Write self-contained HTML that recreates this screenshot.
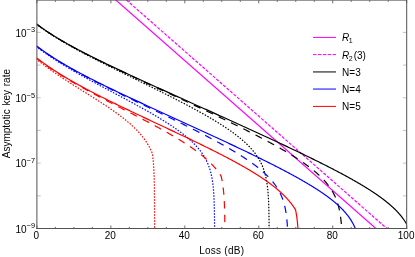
<!DOCTYPE html>
<html><head><meta charset="utf-8"><style>
html,body{margin:0;padding:0;background:#fff;}
svg{display:block;will-change:transform;}
text{font-family:"Liberation Sans",sans-serif;font-size:10px;fill:#000;}
</style></head><body>
<svg width="415" height="257" viewBox="0 0 415 257">
<rect width="415" height="257" fill="#fff"/>
<defs><clipPath id="c"><rect x="36.90" y="0" width="369.80" height="228.50"/></clipPath></defs>
<g clip-path="url(#c)">
<path d="M112.36 -3.00 L378.18 230.50" stroke="#ff00ff" fill="none" stroke-width="1.2"/>
<path d="M122.94 -3.00 L389.08 230.50" stroke="#ff00ff" fill="none" stroke-width="1.2" stroke-dasharray="3.1 1.5"/>
<path d="M35.90 23.46 L36.38 23.83 L36.86 24.19 L37.34 24.55 L37.82 24.91 L38.30 25.27 L38.78 25.62 L39.26 25.98 L39.75 26.33 L40.23 26.68 L40.72 27.03 L41.21 27.38 L41.70 27.73 L42.19 28.08 L42.68 28.42 L43.17 28.77 L43.66 29.11 L44.16 29.45 L44.65 29.79 L45.14 30.13 L45.64 30.47 L46.14 30.80 L46.64 31.14 L47.13 31.47 L47.63 31.81 L48.13 32.14 L48.63 32.47 L49.14 32.80 L49.64 33.12 L50.14 33.45 L50.65 33.78 L51.15 34.10 L51.66 34.42 L52.16 34.75 L52.67 35.07 L53.18 35.39 L53.68 35.71 L54.19 36.02 L54.70 36.34 L55.21 36.66 L55.72 36.97 L56.24 37.29 L56.75 37.60 L57.26 37.91 L57.77 38.22 L58.29 38.53 L58.80 38.84 L59.32 39.15 L59.83 39.45 L60.35 39.76 L60.86 40.07 L61.38 40.37 L61.90 40.67 L62.42 40.98 L62.94 41.28 L63.46 41.58 L63.98 41.88 L64.50 42.18 L65.02 42.47 L65.54 42.77 L66.06 43.07 L66.58 43.36 L67.10 43.66 L67.63 43.95 L68.15 44.25 L68.67 44.54 L69.20 44.83 L69.72 45.12 L70.25 45.41 L70.77 45.70 L71.30 45.99 L71.82 46.28 L72.35 46.57 L72.88 46.86 L73.40 47.14 L73.93 47.43 L74.46 47.71 L74.99 48.00 L75.52 48.28 L76.05 48.57 L76.57 48.85 L77.10 49.13 L77.63 49.41 L78.16 49.69 L78.69 49.97 L79.23 50.25 L79.76 50.53 L80.29 50.81 L80.82 51.09 L81.35 51.37 L81.88 51.64 L82.42 51.92 L82.95 52.20 L83.48 52.47 L84.02 52.75 L84.55 53.02 L85.08 53.30 L85.62 53.57 L86.15 53.84 L86.68 54.12 L87.22 54.39 L87.75 54.66 L88.29 54.93 L88.82 55.20 L89.36 55.47 L89.90 55.74 L90.43 56.01 L90.97 56.28 L91.50 56.55 L92.04 56.82 L92.58 57.09 L93.11 57.36 L93.65 57.62 L94.19 57.89 L94.73 58.16 L95.26 58.42 L95.80 58.69 L96.34 58.95 L96.88 59.22 L97.42 59.48 L97.96 59.75 L98.49 60.01 L99.03 60.28 L99.57 60.54 L100.11 60.80 L100.65 61.07 L101.19 61.33 L101.73 61.59 L102.27 61.86 L102.81 62.12 L103.35 62.38 L103.89 62.64 L104.43 62.90 L104.97 63.16 L105.51 63.42 L106.05 63.68 L106.59 63.94 L107.13 64.20 L107.67 64.46 L108.21 64.72 L108.76 64.98 L109.30 65.24 L109.84 65.50 L110.38 65.76 L110.92 66.01 L111.46 66.27 L112.00 66.53 L112.55 66.79 L113.09 67.04 L113.63 67.30 L114.17 67.56 L114.72 67.82 L115.26 68.07 L115.80 68.33 L116.34 68.58 L116.89 68.84 L117.43 69.10 L117.97 69.35 L118.51 69.61 L119.06 69.86 L119.60 70.12 L120.14 70.37 L120.69 70.63 L121.23 70.88 L121.77 71.14 L122.32 71.39 L122.86 71.64 L123.40 71.90 L123.95 72.15 L124.49 72.41 L125.04 72.66 L125.58 72.91 L126.12 73.17 L126.67 73.42 L127.21 73.67 L127.76 73.92 L128.30 74.18 L128.84 74.43 L129.39 74.68 L129.93 74.93 L130.48 75.19 L131.02 75.44 L131.57 75.69 L132.11 75.94 L132.66 76.19 L133.20 76.44 L133.74 76.70 L134.29 76.95 L134.83 77.20 L135.38 77.45 L135.92 77.70 L136.47 77.95 L137.01 78.20 L137.56 78.45 L138.10 78.70 L138.65 78.95 L139.19 79.21 L139.74 79.46 L140.29 79.71 L140.83 79.96 L141.38 80.21 L141.92 80.46 L142.47 80.71 L143.01 80.96 L143.56 81.21 L144.10 81.46 L144.65 81.71 L145.19 81.95 L145.74 82.20 L146.29 82.45 L146.83 82.70 L147.38 82.95 L147.92 83.20 L148.47 83.45 L149.02 83.70 L149.56 83.95 L150.11 84.20 L150.65 84.45 L151.20 84.70 L151.75 84.94 L152.29 85.19 L152.84 85.44 L153.38 85.69 L153.93 85.94 L154.48 86.19 L155.02 86.44 L155.57 86.68 L156.11 86.93 L156.66 87.18 L157.21 87.43 L157.75 87.68 L158.30 87.92 L158.85 88.17 L159.39 88.42 L159.94 88.67 L160.48 88.92 L161.03 89.16 L161.58 89.41 L162.12 89.66 L162.67 89.91 L163.22 90.16 L163.76 90.40 L164.31 90.65 L164.86 90.90 L165.40 91.15 L165.95 91.39 L166.50 91.64 L167.04 91.89 L167.59 92.14 L168.14 92.38 L168.68 92.63 L169.23 92.88 L169.78 93.13 L170.32 93.37 L170.87 93.62 L171.42 93.87 L171.96 94.11 L172.51 94.36 L173.06 94.61 L173.60 94.86 L174.15 95.10 L174.70 95.35 L175.24 95.60 L175.79 95.84 L176.34 96.09 L176.88 96.34 L177.43 96.59 L177.98 96.83 L178.52 97.08 L179.07 97.33 L179.62 97.57 L180.16 97.82 L180.71 98.07 L181.26 98.31 L181.80 98.56 L182.35 98.81 L182.90 99.05 L183.45 99.30 L183.99 99.55 L184.54 99.79 L185.09 100.04 L185.63 100.29 L186.18 100.54 L186.73 100.78 L187.27 101.03 L187.82 101.28 L188.37 101.52 L188.91 101.77 L189.46 102.02 L190.01 102.26 L190.56 102.51 L191.10 102.76 L191.65 103.00 L192.20 103.25 L192.74 103.50 L193.29 103.74 L193.84 103.99 L194.38 104.24 L194.93 104.48 L195.48 104.73 L196.02 104.98 L196.57 105.22 L197.12 105.47 L197.67 105.72 L198.21 105.96 L198.76 106.21 L199.31 106.46 L199.85 106.70 L200.40 106.95 L200.95 107.20 L201.49 107.44 L202.04 107.69 L202.59 107.94 L203.13 108.18 L203.68 108.43 L204.23 108.68 L204.78 108.92 L205.32 109.17 L205.87 109.42 L206.42 109.66 L206.96 109.91 L207.51 110.16 L208.06 110.40 L208.60 110.65 L209.15 110.90 L209.70 111.15 L210.24 111.39 L210.79 111.64 L211.34 111.89 L211.88 112.13 L212.43 112.38 L212.98 112.63 L213.52 112.87 L214.07 113.12 L214.62 113.37 L215.17 113.62 L215.71 113.86 L216.26 114.11 L216.81 114.36 L217.35 114.60 L217.90 114.85 L218.45 115.10 L218.99 115.35 L219.54 115.59 L220.09 115.84 L220.63 116.09 L221.18 116.33 L221.73 116.58 L222.27 116.83 L222.82 117.08 L223.37 117.32 L223.91 117.57 L224.46 117.82 L225.01 118.07 L225.55 118.31 L226.10 118.56 L226.64 118.81 L227.19 119.06 L227.74 119.30 L228.28 119.55 L228.83 119.80 L229.38 120.05 L229.92 120.30 L230.47 120.54 L231.02 120.79 L231.56 121.04 L232.11 121.29 L232.66 121.54 L233.20 121.78 L233.75 122.03 L234.29 122.28 L234.84 122.53 L235.39 122.78 L235.93 123.02 L236.48 123.27 L237.03 123.52 L237.57 123.77 L238.12 124.02 L238.66 124.27 L239.21 124.51 L239.76 124.76 L240.30 125.01 L240.85 125.26 L241.39 125.51 L241.94 125.76 L242.49 126.01 L243.03 126.26 L243.58 126.50 L244.12 126.75 L244.67 127.00 L245.22 127.25 L245.76 127.50 L246.31 127.75 L246.85 128.00 L247.40 128.25 L247.95 128.50 L248.49 128.75 L249.04 129.00 L249.58 129.25 L250.13 129.49 L250.67 129.74 L251.22 129.99 L251.76 130.24 L252.31 130.49 L252.86 130.74 L253.40 130.99 L253.95 131.24 L254.49 131.49 L255.04 131.74 L255.58 131.99 L256.13 132.24 L256.67 132.49 L257.22 132.74 L257.76 132.99 L258.31 133.25 L258.85 133.50 L259.40 133.75 L259.94 134.00 L260.49 134.25 L261.03 134.50 L261.58 134.75 L262.12 135.00 L262.67 135.25 L263.21 135.50 L263.76 135.75 L264.30 136.01 L264.85 136.26 L265.39 136.51 L265.94 136.76 L266.48 137.01 L267.03 137.26 L267.57 137.52 L268.12 137.77 L268.66 138.02 L269.21 138.27 L269.75 138.52 L270.29 138.78 L270.84 139.03 L271.38 139.28 L271.93 139.53 L272.47 139.79 L273.02 140.04 L273.56 140.29 L274.10 140.55 L274.65 140.80 L275.19 141.05 L275.74 141.31 L276.28 141.56 L276.82 141.81 L277.37 142.07 L277.91 142.32 L278.45 142.57 L279.00 142.83 L279.54 143.08 L280.08 143.34 L280.63 143.59 L281.17 143.85 L281.71 144.10 L282.26 144.35 L282.80 144.61 L283.34 144.86 L283.89 145.12 L284.43 145.38 L284.97 145.63 L285.52 145.89 L286.06 146.14 L286.60 146.40 L287.14 146.65 L287.69 146.91 L288.23 147.17 L288.77 147.42 L289.31 147.68 L289.86 147.93 L290.40 148.19 L290.94 148.45 L291.48 148.71 L292.03 148.96 L292.57 149.22 L293.11 149.48 L293.65 149.73 L294.19 149.99 L294.74 150.25 L295.28 150.51 L295.82 150.77 L296.36 151.03 L296.90 151.28 L297.44 151.54 L297.98 151.80 L298.53 152.06 L299.07 152.32 L299.61 152.58 L300.15 152.84 L300.69 153.10 L301.23 153.36 L301.77 153.62 L302.31 153.88 L302.85 154.14 L303.39 154.40 L303.93 154.66 L304.47 154.92 L305.01 155.18 L305.55 155.45 L306.09 155.71 L306.63 155.97 L307.17 156.23 L307.71 156.49 L308.25 156.76 L308.79 157.02 L309.33 157.28 L309.87 157.55 L310.41 157.81 L310.95 158.07 L311.49 158.34 L312.02 158.60 L312.56 158.86 L313.10 159.13 L313.64 159.39 L314.18 159.66 L314.72 159.92 L315.25 160.19 L315.79 160.46 L316.33 160.72 L316.87 160.99 L317.41 161.25 L317.94 161.52 L318.48 161.79 L319.02 162.06 L319.55 162.32 L320.09 162.59 L320.63 162.86 L321.16 163.13 L321.70 163.40 L322.24 163.67 L322.77 163.94 L323.31 164.21 L323.84 164.48 L324.38 164.75 L324.92 165.02 L325.45 165.29 L325.99 165.56 L326.52 165.83 L327.06 166.10 L327.59 166.37 L328.13 166.65 L328.66 166.92 L329.19 167.19 L329.73 167.47 L330.26 167.74 L330.80 168.02 L331.33 168.29 L331.86 168.57 L332.39 168.84 L332.93 169.12 L333.46 169.39 L333.99 169.67 L334.52 169.95 L335.06 170.22 L335.59 170.50 L336.12 170.78 L336.65 171.06 L337.18 171.34 L337.71 171.62 L338.24 171.90 L338.77 172.18 L339.31 172.46 L339.84 172.74 L340.36 173.02 L340.89 173.30 L341.42 173.59 L341.95 173.87 L342.48 174.15 L343.01 174.44 L343.54 174.72 L344.07 175.01 L344.59 175.29 L345.12 175.58 L345.65 175.87 L346.17 176.15 L346.70 176.44 L347.23 176.73 L347.75 177.02 L348.28 177.31 L348.80 177.60 L349.33 177.89 L349.85 178.18 L350.38 178.47 L350.90 178.76 L351.43 179.06 L351.95 179.35 L352.47 179.64 L352.99 179.94 L353.52 180.23 L354.04 180.53 L354.56 180.83 L355.08 181.13 L355.60 181.42 L356.12 181.72 L356.64 182.02 L357.16 182.32 L357.68 182.62 L358.20 182.93 L358.72 183.23 L359.23 183.53 L359.75 183.84 L360.27 184.14 L360.78 184.45 L361.30 184.75 L361.81 185.06 L362.33 185.37 L362.84 185.68 L363.36 185.99 L363.87 186.30 L364.38 186.61 L364.89 186.93 L365.40 187.24 L365.92 187.56 L366.43 187.87 L366.93 188.19 L367.44 188.51 L367.95 188.82 L368.46 189.14 L368.97 189.47 L369.47 189.79 L369.98 190.11 L370.48 190.44 L370.99 190.76 L371.49 191.09 L371.99 191.42 L372.49 191.74 L373.00 192.07 L373.50 192.41 L374.00 192.74 L374.49 193.07 L374.99 193.41 L375.49 193.74 L375.98 194.08 L376.48 194.42 L376.97 194.76 L377.47 195.10 L377.96 195.45 L378.45 195.79 L378.94 196.14 L379.43 196.49 L379.91 196.84 L380.40 197.19 L380.89 197.54 L381.37 197.90 L381.85 198.25 L382.33 198.61 L382.81 198.97 L383.29 199.33 L383.77 199.70 L384.25 200.06 L384.72 200.43 L385.19 200.80 L385.67 201.17 L386.14 201.54 L386.60 201.92 L387.07 202.29 L387.54 202.67 L388.00 203.05 L388.46 203.44 L388.92 203.82 L389.38 204.21 L389.83 204.60 L390.29 204.99 L390.74 205.39 L391.19 205.78 L391.64 206.18 L392.08 206.58 L392.53 206.99 L392.97 207.40 L393.41 207.81 L393.84 208.22 L394.28 208.63 L394.71 209.05 L395.13 209.47 L395.56 209.89 L395.98 210.32 L396.40 210.75 L396.82 211.18 L397.23 211.62 L397.64 212.05 L398.05 212.49 L398.45 212.94 L398.85 213.39 L399.25 213.84 L399.64 214.29 L400.03 214.75 L400.42 215.21 L400.80 215.67 L401.18 216.13 L401.55 216.60 L401.92 217.08 L402.28 217.55 L402.64 218.03 L403.00 218.52 L403.35 219.00 L403.70 219.49 L404.04 219.98 L404.38 220.48 L404.71 220.98 L405.04 221.48 L405.36 221.99 L405.68 222.50 L405.99 223.01 L406.30 223.53 L406.60 224.05 L406.89 224.57 L407.18 225.09 L407.47 225.62 L407.75 226.15 L408.02 226.69 L408.29 227.22 L408.55 227.76 L408.80 228.31 L409.05 228.85 L409.30 229.40 L409.54 229.95 L409.77 230.50 L410.00 231.06 L410.15 231.46" stroke="#000" fill="none" stroke-width="1.2" />
<path d="M35.90 23.54 L36.38 23.91 L36.86 24.27 L37.33 24.63 L37.81 24.99 L38.30 25.35 L38.78 25.71 L39.26 26.06 L39.75 26.41 L40.23 26.77 L40.72 27.12 L41.21 27.47 L41.69 27.82 L42.18 28.16 L42.67 28.51 L43.16 28.85 L43.66 29.20 L44.15 29.54 L44.64 29.88 L45.14 30.22 L45.63 30.56 L46.13 30.89 L46.63 31.23 L47.13 31.56 L47.63 31.90 L48.13 32.23 L48.63 32.56 L49.13 32.89 L49.63 33.22 L50.13 33.55 L50.64 33.87 L51.14 34.20 L51.64 34.52 L52.15 34.84 L52.66 35.17 L53.16 35.49 L53.67 35.81 L54.18 36.12 L54.69 36.44 L55.20 36.76 L55.71 37.07 L56.22 37.39 L56.73 37.70 L57.24 38.01 L57.76 38.33 L58.27 38.64 L58.78 38.95 L59.30 39.25 L59.81 39.56 L60.33 39.87 L60.85 40.17 L61.36 40.48 L61.88 40.78 L62.40 41.09 L62.92 41.39 L63.43 41.69 L63.95 41.99 L64.47 42.29 L64.99 42.59 L65.51 42.89 L66.04 43.19 L66.56 43.48 L67.08 43.78 L67.60 44.07 L68.12 44.37 L68.65 44.66 L69.17 44.96 L69.70 45.25 L70.22 45.54 L70.74 45.83 L71.27 46.12 L71.80 46.41 L72.32 46.70 L72.85 46.99 L73.37 47.27 L73.90 47.56 L74.43 47.85 L74.96 48.13 L75.48 48.42 L76.01 48.70 L76.54 48.98 L77.07 49.27 L77.60 49.55 L78.13 49.83 L78.66 50.11 L79.19 50.39 L79.72 50.68 L80.25 50.95 L80.78 51.23 L81.31 51.51 L81.84 51.79 L82.38 52.07 L82.91 52.35 L83.44 52.62 L83.97 52.90 L84.51 53.17 L85.04 53.45 L85.57 53.73 L86.11 54.00 L86.64 54.27 L87.17 54.55 L87.71 54.82 L88.24 55.09 L88.78 55.37 L89.31 55.64 L89.85 55.91 L90.38 56.18 L90.92 56.45 L91.45 56.72 L91.99 56.99 L92.53 57.26 L93.06 57.53 L93.60 57.80 L94.14 58.07 L94.67 58.33 L95.21 58.60 L95.75 58.87 L96.28 59.14 L96.82 59.40 L97.36 59.67 L97.90 59.94 L98.43 60.20 L98.97 60.47 L99.51 60.73 L100.05 61.00 L100.59 61.26 L101.13 61.53 L101.66 61.79 L102.20 62.05 L102.74 62.32 L103.28 62.58 L103.82 62.84 L104.36 63.11 L104.90 63.37 L105.44 63.63 L105.98 63.89 L106.52 64.16 L107.06 64.42 L107.60 64.68 L108.14 64.94 L108.68 65.20 L109.22 65.46 L109.76 65.72 L110.30 65.98 L110.84 66.24 L111.38 66.50 L111.92 66.76 L112.46 67.02 L113.01 67.28 L113.55 67.54 L114.09 67.80 L114.63 68.06 L115.17 68.31 L115.71 68.57 L116.25 68.83 L116.80 69.09 L117.34 69.35 L117.88 69.60 L118.42 69.86 L118.96 70.12 L119.51 70.38 L120.05 70.63 L120.59 70.89 L121.13 71.15 L121.67 71.40 L122.22 71.66 L122.76 71.92 L123.30 72.17 L123.84 72.43 L124.39 72.68 L124.93 72.94 L125.47 73.20 L126.02 73.45 L126.56 73.71 L127.10 73.96 L127.64 74.22 L128.19 74.47 L128.73 74.73 L129.27 74.98 L129.82 75.24 L130.36 75.49 L130.90 75.75 L131.45 76.00 L131.99 76.26 L132.53 76.51 L133.08 76.77 L133.62 77.02 L134.16 77.27 L134.71 77.53 L135.25 77.78 L135.80 78.04 L136.34 78.29 L136.88 78.54 L137.43 78.80 L137.97 79.05 L138.51 79.30 L139.06 79.56 L139.60 79.81 L140.15 80.06 L140.69 80.32 L141.23 80.57 L141.78 80.82 L142.32 81.08 L142.87 81.33 L143.41 81.58 L143.95 81.84 L144.50 82.09 L145.04 82.34 L145.59 82.59 L146.13 82.85 L146.67 83.10 L147.22 83.35 L147.76 83.60 L148.31 83.86 L148.85 84.11 L149.40 84.36 L149.94 84.62 L150.48 84.87 L151.03 85.12 L151.57 85.37 L152.12 85.62 L152.66 85.88 L153.21 86.13 L153.75 86.38 L154.29 86.63 L154.84 86.89 L155.38 87.14 L155.93 87.39 L156.47 87.64 L157.02 87.90 L157.56 88.15 L158.11 88.40 L158.65 88.65 L159.19 88.90 L159.74 89.16 L160.28 89.41 L160.83 89.66 L161.37 89.91 L161.92 90.17 L162.46 90.42 L163.00 90.67 L163.55 90.92 L164.09 91.17 L164.64 91.43 L165.18 91.68 L165.73 91.93 L166.27 92.18 L166.82 92.44 L167.36 92.69 L167.90 92.94 L168.45 93.19 L168.99 93.44 L169.54 93.70 L170.08 93.95 L170.63 94.20 L171.17 94.45 L171.72 94.71 L172.26 94.96 L172.80 95.21 L173.35 95.46 L173.89 95.72 L174.44 95.97 L174.98 96.22 L175.53 96.47 L176.07 96.73 L176.61 96.98 L177.16 97.23 L177.70 97.48 L178.25 97.74 L178.79 97.99 L179.33 98.24 L179.88 98.49 L180.42 98.75 L180.97 99.00 L181.51 99.25 L182.06 99.51 L182.60 99.76 L183.14 100.01 L183.69 100.27 L184.23 100.52 L184.77 100.77 L185.32 101.03 L185.86 101.28 L186.41 101.53 L186.95 101.79 L187.49 102.04 L188.04 102.29 L188.58 102.55 L189.13 102.80 L189.67 103.05 L190.21 103.31 L190.76 103.56 L191.30 103.82 L191.84 104.07 L192.39 104.32 L192.93 104.58 L193.47 104.83 L194.02 105.09 L194.56 105.34 L195.10 105.60 L195.65 105.85 L196.19 106.10 L196.73 106.36 L197.28 106.61 L197.82 106.87 L198.36 107.12 L198.91 107.38 L199.45 107.63 L199.99 107.89 L200.54 108.14 L201.08 108.40 L201.62 108.65 L202.17 108.91 L202.71 109.17 L203.25 109.42 L203.79 109.68 L204.34 109.93 L204.88 110.19 L205.42 110.45 L205.96 110.70 L206.51 110.96 L207.05 111.21 L207.59 111.47 L208.13 111.73 L208.68 111.98 L209.22 112.24 L209.76 112.50 L210.30 112.75 L210.84 113.01 L211.39 113.27 L211.93 113.53 L212.47 113.78 L213.01 114.04 L213.55 114.30 L214.10 114.56 L214.64 114.82 L215.18 115.07 L215.72 115.33 L216.26 115.59 L216.80 115.85 L217.35 116.11 L217.89 116.37 L218.43 116.63 L218.97 116.88 L219.51 117.14 L220.05 117.40 L220.59 117.66 L221.13 117.92 L221.67 118.18 L222.21 118.44 L222.75 118.70 L223.30 118.96 L223.84 119.22 L224.38 119.48 L224.92 119.75 L225.46 120.01 L226.00 120.27 L226.54 120.53 L227.08 120.79 L227.62 121.05 L228.16 121.31 L228.70 121.58 L229.24 121.84 L229.78 122.10 L230.32 122.36 L230.86 122.63 L231.39 122.89 L231.93 123.15 L232.47 123.42 L233.01 123.68 L233.55 123.94 L234.09 124.21 L234.63 124.47 L235.17 124.73 L235.71 125.00 L236.24 125.26 L236.78 125.53 L237.32 125.79 L237.86 126.06 L238.40 126.33 L238.93 126.59 L239.47 126.86 L240.01 127.12 L240.55 127.39 L241.08 127.66 L241.62 127.92 L242.16 128.19 L242.70 128.46 L243.23 128.73 L243.77 129.00 L244.31 129.26 L244.84 129.53 L245.38 129.80 L245.92 130.07 L246.45 130.34 L246.99 130.61 L247.52 130.88 L248.06 131.15 L248.59 131.42 L249.13 131.69 L249.67 131.96 L250.20 132.23 L250.74 132.51 L251.27 132.78 L251.80 133.05 L252.34 133.32 L252.87 133.60 L253.41 133.87 L253.94 134.14 L254.48 134.42 L255.01 134.69 L255.54 134.97 L256.08 135.24 L256.61 135.52 L257.14 135.79 L257.67 136.07 L258.21 136.34 L258.74 136.62 L259.27 136.90 L259.80 137.18 L260.33 137.45 L260.87 137.73 L261.40 138.01 L261.93 138.29 L262.46 138.57 L262.99 138.85 L263.52 139.13 L264.05 139.41 L264.58 139.69 L265.11 139.97 L265.64 140.26 L266.17 140.54 L266.70 140.82 L267.23 141.11 L267.76 141.39 L268.28 141.67 L268.81 141.96 L269.34 142.24 L269.87 142.53 L270.39 142.82 L270.92 143.10 L271.45 143.39 L271.97 143.68 L272.50 143.97 L273.03 144.26 L273.55 144.55 L274.08 144.84 L274.60 145.13 L275.13 145.42 L275.65 145.71 L276.17 146.00 L276.70 146.30 L277.22 146.59 L277.74 146.88 L278.27 147.18 L278.79 147.47 L279.31 147.77 L279.83 148.07 L280.35 148.36 L280.87 148.66 L281.39 148.96 L281.91 149.26 L282.43 149.56 L282.95 149.86 L283.47 150.16 L283.99 150.47 L284.51 150.77 L285.02 151.07 L285.54 151.38 L286.06 151.68 L286.57 151.99 L287.09 152.30 L287.60 152.61 L288.12 152.91 L288.63 153.22 L289.14 153.54 L289.66 153.85 L290.17 154.16 L290.68 154.47 L291.19 154.79 L291.70 155.10 L292.21 155.42 L292.72 155.74 L293.23 156.05 L293.74 156.37 L294.25 156.69 L294.75 157.01 L295.26 157.34 L295.77 157.66 L296.27 157.98 L296.77 158.31 L297.28 158.64 L297.78 158.96 L298.28 159.29 L298.78 159.62 L299.28 159.95 L299.78 160.29 L300.28 160.62 L300.78 160.96 L301.27 161.29 L301.77 161.63 L302.27 161.97 L302.76 162.31 L303.25 162.65 L303.74 163.00 L304.23 163.34 L304.72 163.69 L305.21 164.04 L305.70 164.39 L306.19 164.74 L306.67 165.09 L307.16 165.44 L307.64 165.80 L308.12 166.16 L308.60 166.52 L309.08 166.88 L309.56 167.24 L310.04 167.60 L310.51 167.97 L310.99 168.34 L311.46 168.71 L311.93 169.08 L312.40 169.46 L312.86 169.83 L313.33 170.21 L313.79 170.59 L314.26 170.97 L314.72 171.36 L315.18 171.75 L315.63 172.13 L316.09 172.53 L316.54 172.92 L316.99 173.32 L317.44 173.71 L317.89 174.11 L318.33 174.52 L318.77 174.92 L319.21 175.33 L319.65 175.74 L320.08 176.16 L320.52 176.57 L320.94 176.99 L321.37 177.41 L321.80 177.84 L322.22 178.27 L322.63 178.70 L323.05 179.13 L323.46 179.57 L323.87 180.01 L324.27 180.45 L324.68 180.89 L325.08 181.34 L325.47 181.79 L325.86 182.25 L326.25 182.71 L326.63 183.17 L327.01 183.63 L327.39 184.10 L327.76 184.57 L328.13 185.04 L328.49 185.52 L328.85 186.00 L329.20 186.49 L329.55 186.97 L329.90 187.47 L330.24 187.96 L330.58 188.46 L330.91 188.96 L331.23 189.46 L331.55 189.97 L331.87 190.48 L332.18 190.99 L332.48 191.51 L332.78 192.03 L333.07 192.55 L333.36 193.08 L333.64 193.61 L333.92 194.14 L334.19 194.68 L334.46 195.22 L334.72 195.76 L334.97 196.30 L335.22 196.85 L335.46 197.40 L335.69 197.95 L335.93 198.50 L336.15 199.06 L336.37 199.62 L336.58 200.18 L336.79 200.74 L336.99 201.31 L337.19 201.87 L337.38 202.44 L337.57 203.01 L337.75 203.58 L337.92 204.16 L338.09 204.73 L338.25 205.31 L338.41 205.89 L338.57 206.47 L338.72 207.05 L338.86 207.63 L339.00 208.22 L339.14 208.80 L339.27 209.39 L339.39 209.97 L339.52 210.56 L339.63 211.15 L339.75 211.74 L339.86 212.33 L339.96 212.92 L340.06 213.51 L340.16 214.10 L340.26 214.69 L340.35 215.29 L340.44 215.88 L340.52 216.47 L340.60 217.07 L340.68 217.66 L340.76 218.26 L340.83 218.85 L340.90 219.45 L340.97 220.05 L341.03 220.64 L341.09 221.24 L341.15 221.84 L341.21 222.43 L341.27 223.03 L341.32 223.63 L341.37 224.23 L341.42 224.82 L341.47 225.42 L341.51 226.02 L341.56 226.62 L341.60 227.22 L341.64 227.82 L341.68 228.42 L341.71 229.01 L341.75 229.61 L341.78 230.21 L341.82 230.81 L341.84 231.33" stroke="#000" fill="none" stroke-width="1.2" stroke-dasharray="7.3 6.4"/>
<path d="M35.90 23.80 L36.38 24.17 L36.85 24.53 L37.33 24.89 L37.81 25.25 L38.29 25.61 L38.77 25.97 L39.26 26.33 L39.74 26.68 L40.22 27.04 L40.71 27.39 L41.19 27.74 L41.68 28.09 L42.17 28.44 L42.66 28.79 L43.15 29.13 L43.64 29.48 L44.13 29.82 L44.63 30.16 L45.12 30.50 L45.61 30.84 L46.11 31.18 L46.61 31.52 L47.10 31.86 L47.60 32.19 L48.10 32.52 L48.60 32.86 L49.10 33.19 L49.60 33.52 L50.10 33.85 L50.60 34.18 L51.11 34.50 L51.61 34.83 L52.11 35.15 L52.62 35.48 L53.13 35.80 L53.63 36.12 L54.14 36.44 L54.65 36.76 L55.16 37.08 L55.66 37.40 L56.17 37.71 L56.68 38.03 L57.20 38.35 L57.71 38.66 L58.22 38.97 L58.73 39.28 L59.24 39.59 L59.76 39.90 L60.27 40.21 L60.79 40.52 L61.30 40.83 L61.82 41.14 L62.33 41.44 L62.85 41.75 L63.37 42.05 L63.89 42.35 L64.40 42.66 L64.92 42.96 L65.44 43.26 L65.96 43.56 L66.48 43.86 L67.00 44.16 L67.52 44.46 L68.04 44.75 L68.57 45.05 L69.09 45.34 L69.61 45.64 L70.13 45.93 L70.66 46.23 L71.18 46.52 L71.70 46.81 L72.23 47.11 L72.75 47.40 L73.28 47.69 L73.80 47.98 L74.33 48.27 L74.85 48.56 L75.38 48.84 L75.91 49.13 L76.43 49.42 L76.96 49.70 L77.49 49.99 L78.02 50.28 L78.54 50.56 L79.07 50.85 L79.60 51.13 L80.13 51.41 L80.66 51.70 L81.19 51.98 L81.72 52.26 L82.25 52.54 L82.78 52.82 L83.31 53.10 L83.84 53.38 L84.37 53.66 L84.90 53.94 L85.43 54.22 L85.96 54.50 L86.50 54.78 L87.03 55.05 L87.56 55.33 L88.09 55.61 L88.62 55.88 L89.16 56.16 L89.69 56.44 L90.22 56.71 L90.76 56.99 L91.29 57.26 L91.82 57.54 L92.36 57.81 L92.89 58.08 L93.42 58.36 L93.96 58.63 L94.49 58.90 L95.03 59.18 L95.56 59.45 L96.10 59.72 L96.63 59.99 L97.17 60.26 L97.70 60.53 L98.24 60.80 L98.77 61.07 L99.31 61.35 L99.85 61.62 L100.38 61.89 L100.92 62.15 L101.45 62.42 L101.99 62.69 L102.53 62.96 L103.06 63.23 L103.60 63.50 L104.14 63.77 L104.67 64.04 L105.21 64.30 L105.75 64.57 L106.28 64.84 L106.82 65.11 L107.36 65.37 L107.90 65.64 L108.43 65.91 L108.97 66.17 L109.51 66.44 L110.05 66.71 L110.58 66.97 L111.12 67.24 L111.66 67.51 L112.20 67.77 L112.73 68.04 L113.27 68.30 L113.81 68.57 L114.35 68.83 L114.89 69.10 L115.43 69.36 L115.96 69.63 L116.50 69.89 L117.04 70.16 L117.58 70.42 L118.12 70.69 L118.66 70.95 L119.19 71.22 L119.73 71.48 L120.27 71.74 L120.81 72.01 L121.35 72.27 L121.89 72.54 L122.43 72.80 L122.97 73.07 L123.50 73.33 L124.04 73.59 L124.58 73.86 L125.12 74.12 L125.66 74.38 L126.20 74.65 L126.74 74.91 L127.28 75.18 L127.82 75.44 L128.35 75.70 L128.89 75.97 L129.43 76.23 L129.97 76.49 L130.51 76.76 L131.05 77.02 L131.59 77.28 L132.13 77.55 L132.67 77.81 L133.21 78.07 L133.74 78.34 L134.28 78.60 L134.82 78.87 L135.36 79.13 L135.90 79.39 L136.44 79.66 L136.98 79.92 L137.52 80.18 L138.06 80.45 L138.60 80.71 L139.13 80.97 L139.67 81.24 L140.21 81.50 L140.75 81.77 L141.29 82.03 L141.83 82.29 L142.37 82.56 L142.91 82.82 L143.44 83.09 L143.98 83.35 L144.52 83.62 L145.06 83.88 L145.60 84.14 L146.14 84.41 L146.68 84.67 L147.21 84.94 L147.75 85.20 L148.29 85.47 L148.83 85.73 L149.37 86.00 L149.91 86.26 L150.44 86.53 L150.98 86.79 L151.52 87.06 L152.06 87.33 L152.60 87.59 L153.13 87.86 L153.67 88.12 L154.21 88.39 L154.75 88.66 L155.29 88.92 L155.82 89.19 L156.36 89.45 L156.90 89.72 L157.44 89.99 L157.97 90.26 L158.51 90.52 L159.05 90.79 L159.58 91.06 L160.12 91.33 L160.66 91.59 L161.19 91.86 L161.73 92.13 L162.27 92.40 L162.80 92.67 L163.34 92.93 L163.88 93.20 L164.41 93.47 L164.95 93.74 L165.49 94.01 L166.02 94.28 L166.56 94.55 L167.09 94.82 L167.63 95.09 L168.17 95.36 L168.70 95.63 L169.24 95.90 L169.77 96.17 L170.31 96.44 L170.84 96.72 L171.38 96.99 L171.91 97.26 L172.45 97.53 L172.98 97.80 L173.52 98.08 L174.05 98.35 L174.58 98.62 L175.12 98.90 L175.65 99.17 L176.19 99.44 L176.72 99.72 L177.25 99.99 L177.79 100.27 L178.32 100.54 L178.85 100.82 L179.39 101.09 L179.92 101.37 L180.45 101.65 L180.98 101.92 L181.52 102.20 L182.05 102.48 L182.58 102.75 L183.11 103.03 L183.64 103.31 L184.17 103.59 L184.71 103.87 L185.24 104.15 L185.77 104.43 L186.30 104.71 L186.83 104.99 L187.36 105.27 L187.89 105.55 L188.42 105.83 L188.95 106.11 L189.48 106.39 L190.01 106.68 L190.54 106.96 L191.07 107.24 L191.59 107.53 L192.12 107.81 L192.65 108.10 L193.18 108.38 L193.71 108.67 L194.23 108.95 L194.76 109.24 L195.29 109.53 L195.82 109.81 L196.34 110.10 L196.87 110.39 L197.39 110.68 L197.92 110.97 L198.44 111.26 L198.97 111.55 L199.49 111.84 L200.02 112.13 L200.54 112.42 L201.07 112.71 L201.59 113.01 L202.11 113.30 L202.64 113.59 L203.16 113.89 L203.68 114.18 L204.20 114.48 L204.73 114.78 L205.25 115.07 L205.77 115.37 L206.29 115.67 L206.81 115.97 L207.33 116.27 L207.85 116.57 L208.37 116.87 L208.89 117.17 L209.40 117.47 L209.92 117.78 L210.44 118.08 L210.96 118.39 L211.47 118.69 L211.99 119.00 L212.50 119.30 L213.02 119.61 L213.53 119.92 L214.05 120.23 L214.56 120.54 L215.07 120.85 L215.59 121.16 L216.10 121.48 L216.61 121.79 L217.12 122.10 L217.63 122.42 L218.14 122.73 L218.65 123.05 L219.16 123.37 L219.67 123.69 L220.18 124.01 L220.68 124.33 L221.19 124.65 L221.69 124.98 L222.20 125.30 L222.70 125.63 L223.21 125.95 L223.71 126.28 L224.21 126.61 L224.71 126.94 L225.21 127.27 L225.71 127.60 L226.21 127.94 L226.71 128.27 L227.21 128.61 L227.70 128.94 L228.20 129.28 L228.69 129.62 L229.19 129.96 L229.68 130.31 L230.17 130.65 L230.66 131.00 L231.15 131.34 L231.64 131.69 L232.13 132.04 L232.61 132.39 L233.10 132.75 L233.58 133.10 L234.06 133.46 L234.54 133.81 L235.02 134.17 L235.50 134.54 L235.98 134.90 L236.46 135.26 L236.93 135.63 L237.41 136.00 L237.88 136.37 L238.35 136.74 L238.82 137.12 L239.29 137.49 L239.75 137.87 L240.22 138.25 L240.68 138.63 L241.14 139.02 L241.60 139.40 L242.05 139.79 L242.51 140.18 L242.96 140.58 L243.41 140.97 L243.86 141.37 L244.31 141.77 L244.75 142.17 L245.20 142.58 L245.64 142.99 L246.07 143.40 L246.51 143.81 L246.94 144.23 L247.37 144.65 L247.80 145.07 L248.22 145.49 L248.64 145.92 L249.06 146.35 L249.48 146.78 L249.89 147.22 L250.30 147.65 L250.71 148.10 L251.11 148.54 L251.51 148.99 L251.91 149.44 L252.30 149.89 L252.69 150.35 L253.07 150.81 L253.45 151.27 L253.83 151.74 L254.20 152.21 L254.57 152.68 L254.94 153.16 L255.30 153.64 L255.65 154.12 L256.01 154.61 L256.35 155.10 L256.70 155.59 L257.03 156.09 L257.37 156.58 L257.69 157.09 L258.01 157.59 L258.33 158.10 L258.64 158.62 L258.95 159.13 L259.25 159.65 L259.55 160.17 L259.84 160.70 L260.12 161.22 L260.40 161.76 L260.68 162.29 L260.94 162.83 L261.21 163.37 L261.46 163.91 L261.71 164.45 L261.96 165.00 L262.20 165.55 L262.43 166.10 L262.66 166.66 L262.88 167.22 L263.10 167.78 L263.31 168.34 L263.51 168.90 L263.71 169.47 L263.90 170.04 L264.09 170.61 L264.28 171.18 L264.45 171.75 L264.63 172.33 L264.79 172.90 L264.95 173.48 L265.11 174.06 L265.26 174.64 L265.41 175.22 L265.55 175.80 L265.69 176.39 L265.82 176.97 L265.95 177.56 L266.07 178.15 L266.19 178.73 L266.31 179.32 L266.42 179.91 L266.53 180.50 L266.63 181.09 L266.73 181.69 L266.83 182.28 L266.92 182.87 L267.01 183.46 L267.10 184.06 L267.18 184.65 L267.26 185.25 L267.34 185.84 L267.42 186.44 L267.49 187.03 L267.56 187.63 L267.62 188.22 L267.69 188.82 L267.75 189.42 L267.81 190.01 L267.86 190.61 L267.92 191.21 L267.97 191.81 L268.02 192.41 L268.07 193.00 L268.11 193.60 L268.16 194.20 L268.20 194.80 L268.24 195.40 L268.28 196.00 L268.32 196.59 L268.36 197.19 L268.39 197.79 L268.42 198.39 L268.46 198.99 L268.49 199.59 L268.52 200.19 L268.54 200.79 L268.57 201.39 L268.60 201.99 L268.62 202.59 L268.65 203.19 L268.67 203.79 L268.69 204.39 L268.71 204.99 L268.73 205.58 L268.75 206.18 L268.77 206.78 L268.79 207.38 L268.81 207.98 L268.82 208.58 L268.84 209.18 L268.85 209.78 L268.87 210.38 L268.88 210.98 L268.90 211.58 L268.91 212.18 L268.92 212.78 L268.93 213.38 L268.94 213.98 L268.96 214.58 L268.97 215.18 L268.98 215.78 L268.99 216.38 L268.99 216.98 L269.00 217.58 L269.01 218.18 L269.02 218.78 L269.03 219.38 L269.04 219.98 L269.04 220.58 L269.05 221.18 L269.06 221.78 L269.06 222.38 L269.07 222.98 L269.07 223.58 L269.08 224.18 L269.08 224.78 L269.09 225.38 L269.09 225.98 L269.10 226.58 L269.10 227.18 L269.11 227.78 L269.11 228.38 L269.12 228.98 L269.12 229.58 L269.12 230.18 L269.13 230.78 L269.13 231.35" stroke="#000" fill="none" stroke-width="1.2" stroke-dasharray="1.5 1.5"/>
<path d="M35.90 45.46 L36.38 45.83 L36.85 46.19 L37.33 46.55 L37.81 46.91 L38.29 47.27 L38.77 47.63 L39.26 47.99 L39.74 48.34 L40.22 48.70 L40.71 49.05 L41.19 49.40 L41.68 49.75 L42.17 50.10 L42.66 50.45 L43.15 50.80 L43.64 51.15 L44.13 51.49 L44.62 51.83 L45.11 52.17 L45.61 52.52 L46.10 52.86 L46.60 53.19 L47.09 53.53 L47.59 53.87 L48.09 54.20 L48.59 54.54 L49.09 54.87 L49.59 55.20 L50.09 55.53 L50.59 55.86 L51.09 56.19 L51.59 56.52 L52.10 56.84 L52.60 57.17 L53.10 57.49 L53.61 57.82 L54.12 58.14 L54.62 58.46 L55.13 58.78 L55.64 59.10 L56.15 59.42 L56.66 59.73 L57.17 60.05 L57.68 60.37 L58.19 60.68 L58.70 60.99 L59.21 61.31 L59.72 61.62 L60.24 61.93 L60.75 62.24 L61.27 62.55 L61.78 62.86 L62.30 63.16 L62.81 63.47 L63.33 63.77 L63.85 64.08 L64.36 64.38 L64.88 64.69 L65.40 64.99 L65.92 65.29 L66.44 65.59 L66.96 65.89 L67.48 66.19 L68.00 66.49 L68.52 66.79 L69.04 67.08 L69.56 67.38 L70.08 67.67 L70.61 67.97 L71.13 68.26 L71.65 68.56 L72.18 68.85 L72.70 69.14 L73.23 69.43 L73.75 69.72 L74.28 70.01 L74.80 70.30 L75.33 70.59 L75.85 70.88 L76.38 71.16 L76.91 71.45 L77.44 71.74 L77.96 72.02 L78.49 72.31 L79.02 72.59 L79.55 72.88 L80.08 73.16 L80.61 73.44 L81.14 73.72 L81.67 74.01 L82.20 74.29 L82.73 74.57 L83.26 74.85 L83.79 75.13 L84.32 75.41 L84.85 75.68 L85.38 75.96 L85.91 76.24 L86.45 76.52 L86.98 76.79 L87.51 77.07 L88.04 77.34 L88.58 77.62 L89.11 77.89 L89.65 78.17 L90.18 78.44 L90.71 78.71 L91.25 78.99 L91.78 79.26 L92.32 79.53 L92.85 79.80 L93.39 80.08 L93.92 80.35 L94.46 80.62 L94.99 80.89 L95.53 81.16 L96.07 81.43 L96.60 81.69 L97.14 81.96 L97.68 82.23 L98.21 82.50 L98.75 82.77 L99.29 83.03 L99.82 83.30 L100.36 83.57 L100.90 83.83 L101.44 84.10 L101.98 84.37 L102.51 84.63 L103.05 84.90 L103.59 85.16 L104.13 85.42 L104.67 85.69 L105.21 85.95 L105.75 86.22 L106.28 86.48 L106.82 86.74 L107.36 87.00 L107.90 87.27 L108.44 87.53 L108.98 87.79 L109.52 88.05 L110.06 88.31 L110.60 88.58 L111.14 88.84 L111.68 89.10 L112.22 89.36 L112.76 89.62 L113.31 89.88 L113.85 90.14 L114.39 90.40 L114.93 90.66 L115.47 90.91 L116.01 91.17 L116.55 91.43 L117.09 91.69 L117.64 91.95 L118.18 92.21 L118.72 92.47 L119.26 92.72 L119.80 92.98 L120.34 93.24 L120.89 93.49 L121.43 93.75 L121.97 94.01 L122.51 94.27 L123.06 94.52 L123.60 94.78 L124.14 95.03 L124.68 95.29 L125.23 95.55 L125.77 95.80 L126.31 96.06 L126.86 96.31 L127.40 96.57 L127.94 96.82 L128.48 97.08 L129.03 97.33 L129.57 97.59 L130.11 97.84 L130.66 98.10 L131.20 98.35 L131.74 98.60 L132.29 98.86 L132.83 99.11 L133.38 99.37 L133.92 99.62 L134.46 99.87 L135.01 100.13 L135.55 100.38 L136.09 100.63 L136.64 100.89 L137.18 101.14 L137.73 101.39 L138.27 101.64 L138.82 101.90 L139.36 102.15 L139.90 102.40 L140.45 102.65 L140.99 102.91 L141.54 103.16 L142.08 103.41 L142.63 103.66 L143.17 103.92 L143.72 104.17 L144.26 104.42 L144.80 104.67 L145.35 104.92 L145.89 105.17 L146.44 105.43 L146.98 105.68 L147.53 105.93 L148.07 106.18 L148.62 106.43 L149.16 106.68 L149.71 106.93 L150.25 107.18 L150.80 107.44 L151.34 107.69 L151.89 107.94 L152.43 108.19 L152.98 108.44 L153.52 108.69 L154.07 108.94 L154.61 109.19 L155.16 109.44 L155.70 109.69 L156.25 109.94 L156.79 110.19 L157.34 110.44 L157.88 110.69 L158.43 110.94 L158.97 111.19 L159.52 111.44 L160.07 111.69 L160.61 111.94 L161.16 112.19 L161.70 112.44 L162.25 112.69 L162.79 112.95 L163.34 113.20 L163.88 113.45 L164.43 113.70 L164.97 113.95 L165.52 114.19 L166.07 114.44 L166.61 114.69 L167.16 114.94 L167.70 115.19 L168.25 115.44 L168.79 115.69 L169.34 115.94 L169.88 116.19 L170.43 116.44 L170.97 116.69 L171.52 116.94 L172.07 117.19 L172.61 117.44 L173.16 117.69 L173.70 117.94 L174.25 118.19 L174.79 118.44 L175.34 118.69 L175.88 118.94 L176.43 119.19 L176.98 119.44 L177.52 119.69 L178.07 119.94 L178.61 120.19 L179.16 120.44 L179.70 120.69 L180.25 120.94 L180.79 121.19 L181.34 121.44 L181.89 121.69 L182.43 121.94 L182.98 122.19 L183.52 122.44 L184.07 122.69 L184.61 122.94 L185.16 123.19 L185.70 123.44 L186.25 123.69 L186.80 123.94 L187.34 124.19 L187.89 124.44 L188.43 124.69 L188.98 124.94 L189.52 125.19 L190.07 125.44 L190.61 125.69 L191.16 125.94 L191.70 126.19 L192.25 126.44 L192.79 126.69 L193.34 126.94 L193.88 127.19 L194.43 127.44 L194.98 127.69 L195.52 127.94 L196.07 128.19 L196.61 128.44 L197.16 128.69 L197.70 128.94 L198.25 129.19 L198.79 129.44 L199.34 129.70 L199.88 129.95 L200.43 130.20 L200.97 130.45 L201.52 130.70 L202.06 130.95 L202.61 131.20 L203.15 131.45 L203.70 131.70 L204.24 131.95 L204.79 132.21 L205.33 132.46 L205.88 132.71 L206.42 132.96 L206.97 133.21 L207.51 133.46 L208.06 133.71 L208.60 133.97 L209.14 134.22 L209.69 134.47 L210.23 134.72 L210.78 134.97 L211.32 135.22 L211.87 135.48 L212.41 135.73 L212.96 135.98 L213.50 136.23 L214.04 136.49 L214.59 136.74 L215.13 136.99 L215.68 137.24 L216.22 137.50 L216.77 137.75 L217.31 138.00 L217.85 138.25 L218.40 138.51 L218.94 138.76 L219.49 139.01 L220.03 139.27 L220.57 139.52 L221.12 139.77 L221.66 140.03 L222.21 140.28 L222.75 140.53 L223.29 140.79 L223.84 141.04 L224.38 141.30 L224.92 141.55 L225.47 141.80 L226.01 142.06 L226.55 142.31 L227.10 142.57 L227.64 142.82 L228.18 143.08 L228.73 143.33 L229.27 143.59 L229.81 143.84 L230.36 144.10 L230.90 144.35 L231.44 144.61 L231.98 144.86 L232.53 145.12 L233.07 145.38 L233.61 145.63 L234.16 145.89 L234.70 146.14 L235.24 146.40 L235.78 146.66 L236.33 146.91 L236.87 147.17 L237.41 147.43 L237.95 147.68 L238.49 147.94 L239.04 148.20 L239.58 148.45 L240.12 148.71 L240.66 148.97 L241.20 149.23 L241.75 149.49 L242.29 149.74 L242.83 150.00 L243.37 150.26 L243.91 150.52 L244.45 150.78 L244.99 151.04 L245.54 151.30 L246.08 151.56 L246.62 151.82 L247.16 152.07 L247.70 152.33 L248.24 152.59 L248.78 152.85 L249.32 153.11 L249.86 153.38 L250.40 153.64 L250.94 153.90 L251.48 154.16 L252.02 154.42 L252.56 154.68 L253.10 154.94 L253.64 155.20 L254.18 155.47 L254.72 155.73 L255.26 155.99 L255.80 156.25 L256.34 156.52 L256.88 156.78 L257.42 157.04 L257.96 157.31 L258.50 157.57 L259.04 157.83 L259.57 158.10 L260.11 158.36 L260.65 158.63 L261.19 158.89 L261.73 159.16 L262.27 159.42 L262.80 159.69 L263.34 159.96 L263.88 160.22 L264.42 160.49 L264.95 160.76 L265.49 161.02 L266.03 161.29 L266.57 161.56 L267.10 161.83 L267.64 162.09 L268.18 162.36 L268.71 162.63 L269.25 162.90 L269.78 163.17 L270.32 163.44 L270.86 163.71 L271.39 163.98 L271.93 164.25 L272.46 164.52 L273.00 164.79 L273.53 165.06 L274.07 165.33 L274.60 165.61 L275.14 165.88 L275.67 166.15 L276.21 166.42 L276.74 166.70 L277.27 166.97 L277.81 167.25 L278.34 167.52 L278.87 167.80 L279.41 168.07 L279.94 168.35 L280.47 168.62 L281.01 168.90 L281.54 169.18 L282.07 169.45 L282.60 169.73 L283.13 170.01 L283.67 170.29 L284.20 170.57 L284.73 170.85 L285.26 171.13 L285.79 171.41 L286.32 171.69 L286.85 171.97 L287.38 172.25 L287.91 172.53 L288.44 172.82 L288.97 173.10 L289.50 173.38 L290.02 173.67 L290.55 173.95 L291.08 174.24 L291.61 174.52 L292.13 174.81 L292.66 175.09 L293.19 175.38 L293.71 175.67 L294.24 175.96 L294.77 176.25 L295.29 176.54 L295.82 176.83 L296.34 177.12 L296.87 177.41 L297.39 177.70 L297.91 177.99 L298.44 178.29 L298.96 178.58 L299.48 178.88 L300.01 179.17 L300.53 179.47 L301.05 179.76 L301.57 180.06 L302.09 180.36 L302.61 180.66 L303.13 180.96 L303.65 181.26 L304.17 181.56 L304.69 181.86 L305.21 182.16 L305.73 182.46 L306.24 182.77 L306.76 183.07 L307.28 183.38 L307.79 183.69 L308.31 183.99 L308.82 184.30 L309.34 184.61 L309.85 184.92 L310.36 185.23 L310.87 185.54 L311.39 185.86 L311.90 186.17 L312.41 186.49 L312.92 186.80 L313.43 187.12 L313.94 187.44 L314.45 187.76 L314.95 188.08 L315.46 188.40 L315.97 188.72 L316.47 189.04 L316.98 189.37 L317.48 189.69 L317.98 190.02 L318.49 190.35 L318.99 190.68 L319.49 191.01 L319.99 191.34 L320.49 191.67 L320.98 192.01 L321.48 192.34 L321.98 192.68 L322.47 193.02 L322.97 193.36 L323.46 193.70 L323.95 194.04 L324.44 194.39 L324.93 194.73 L325.42 195.08 L325.91 195.43 L326.40 195.78 L326.88 196.13 L327.37 196.49 L327.85 196.84 L328.33 197.20 L328.81 197.56 L329.29 197.92 L329.77 198.28 L330.25 198.65 L330.72 199.02 L331.20 199.38 L331.67 199.76 L332.14 200.13 L332.61 200.50 L333.07 200.88 L333.54 201.26 L334.00 201.64 L334.46 202.02 L334.92 202.41 L335.38 202.80 L335.84 203.19 L336.29 203.58 L336.74 203.97 L337.19 204.37 L337.64 204.77 L338.08 205.17 L338.53 205.58 L338.97 205.99 L339.40 206.40 L339.84 206.81 L340.27 207.23 L340.70 207.65 L341.13 208.07 L341.55 208.49 L341.97 208.92 L342.39 209.35 L342.81 209.78 L343.22 210.22 L343.63 210.66 L344.03 211.10 L344.43 211.55 L344.83 212.00 L345.23 212.45 L345.62 212.90 L346.00 213.36 L346.39 213.82 L346.77 214.29 L347.14 214.76 L347.51 215.23 L347.88 215.70 L348.24 216.18 L348.60 216.67 L348.95 217.15 L349.30 217.64 L349.64 218.13 L349.98 218.63 L350.31 219.13 L350.64 219.63 L350.96 220.14 L351.28 220.65 L351.59 221.16 L351.90 221.67 L352.20 222.19 L352.49 222.72 L352.78 223.24 L353.07 223.77 L353.34 224.30 L353.62 224.84 L353.88 225.37 L354.14 225.91 L354.40 226.46 L354.65 227.00 L354.89 227.55 L355.13 228.10 L355.36 228.66 L355.58 229.21 L355.80 229.77 L356.02 230.33 L356.23 230.89 L356.43 231.46 L356.44 231.49" stroke="#0000ff" fill="none" stroke-width="1.2" />
<path d="M35.90 45.62 L36.38 45.99 L36.85 46.35 L37.33 46.72 L37.81 47.08 L38.29 47.44 L38.77 47.80 L39.25 48.16 L39.73 48.51 L40.22 48.87 L40.70 49.22 L41.19 49.58 L41.67 49.93 L42.16 50.28 L42.65 50.63 L43.14 50.97 L43.63 51.32 L44.12 51.67 L44.61 52.01 L45.10 52.35 L45.59 52.70 L46.09 53.04 L46.58 53.38 L47.08 53.72 L47.57 54.05 L48.07 54.39 L48.57 54.72 L49.07 55.06 L49.57 55.39 L50.07 55.72 L50.57 56.05 L51.07 56.38 L51.57 56.71 L52.07 57.04 L52.58 57.37 L53.08 57.69 L53.58 58.02 L54.09 58.34 L54.60 58.66 L55.10 58.98 L55.61 59.30 L56.12 59.62 L56.62 59.94 L57.13 60.26 L57.64 60.58 L58.15 60.89 L58.66 61.21 L59.18 61.52 L59.69 61.84 L60.20 62.15 L60.71 62.46 L61.23 62.77 L61.74 63.08 L62.25 63.39 L62.77 63.70 L63.28 64.00 L63.80 64.31 L64.32 64.62 L64.83 64.92 L65.35 65.22 L65.87 65.53 L66.39 65.83 L66.91 66.13 L67.42 66.43 L67.94 66.73 L68.46 67.03 L68.98 67.33 L69.51 67.63 L70.03 67.93 L70.55 68.22 L71.07 68.52 L71.59 68.81 L72.12 69.11 L72.64 69.40 L73.16 69.70 L73.69 69.99 L74.21 70.28 L74.73 70.57 L75.26 70.86 L75.78 71.15 L76.31 71.44 L76.84 71.73 L77.36 72.02 L77.89 72.31 L78.41 72.59 L78.94 72.88 L79.47 73.17 L80.00 73.45 L80.53 73.74 L81.05 74.02 L81.58 74.31 L82.11 74.59 L82.64 74.87 L83.17 75.15 L83.70 75.44 L84.23 75.72 L84.76 76.00 L85.29 76.28 L85.82 76.56 L86.35 76.84 L86.88 77.12 L87.41 77.40 L87.94 77.68 L88.48 77.95 L89.01 78.23 L89.54 78.51 L90.07 78.78 L90.61 79.06 L91.14 79.34 L91.67 79.61 L92.20 79.89 L92.74 80.16 L93.27 80.44 L93.81 80.71 L94.34 80.98 L94.87 81.26 L95.41 81.53 L95.94 81.80 L96.48 82.07 L97.01 82.35 L97.55 82.62 L98.08 82.89 L98.62 83.16 L99.15 83.43 L99.69 83.70 L100.23 83.97 L100.76 84.24 L101.30 84.51 L101.83 84.78 L102.37 85.05 L102.91 85.32 L103.44 85.58 L103.98 85.85 L104.52 86.12 L105.05 86.39 L105.59 86.65 L106.13 86.92 L106.67 87.19 L107.20 87.46 L107.74 87.72 L108.28 87.99 L108.82 88.25 L109.35 88.52 L109.89 88.78 L110.43 89.05 L110.97 89.32 L111.51 89.58 L112.05 89.84 L112.58 90.11 L113.12 90.37 L113.66 90.64 L114.20 90.90 L114.74 91.17 L115.28 91.43 L115.82 91.69 L116.36 91.96 L116.90 92.22 L117.44 92.48 L117.97 92.74 L118.51 93.01 L119.05 93.27 L119.59 93.53 L120.13 93.79 L120.67 94.06 L121.21 94.32 L121.75 94.58 L122.29 94.84 L122.83 95.10 L123.37 95.37 L123.91 95.63 L124.45 95.89 L124.99 96.15 L125.53 96.41 L126.07 96.67 L126.61 96.93 L127.15 97.19 L127.69 97.45 L128.23 97.71 L128.77 97.98 L129.31 98.24 L129.86 98.50 L130.40 98.76 L130.94 99.02 L131.48 99.28 L132.02 99.54 L132.56 99.80 L133.10 100.06 L133.64 100.32 L134.18 100.58 L134.72 100.84 L135.26 101.10 L135.80 101.36 L136.34 101.62 L136.89 101.88 L137.43 102.14 L137.97 102.40 L138.51 102.65 L139.05 102.91 L139.59 103.17 L140.13 103.43 L140.67 103.69 L141.21 103.95 L141.75 104.21 L142.29 104.47 L142.84 104.73 L143.38 104.99 L143.92 105.25 L144.46 105.51 L145.00 105.77 L145.54 106.03 L146.08 106.29 L146.62 106.55 L147.16 106.81 L147.71 107.07 L148.25 107.33 L148.79 107.58 L149.33 107.84 L149.87 108.10 L150.41 108.36 L150.95 108.62 L151.49 108.88 L152.03 109.14 L152.57 109.40 L153.11 109.66 L153.66 109.92 L154.20 110.18 L154.74 110.44 L155.28 110.70 L155.82 110.96 L156.36 111.22 L156.90 111.48 L157.44 111.74 L157.98 112.00 L158.52 112.26 L159.06 112.52 L159.60 112.78 L160.14 113.04 L160.68 113.30 L161.22 113.56 L161.76 113.83 L162.30 114.09 L162.85 114.35 L163.39 114.61 L163.93 114.87 L164.47 115.13 L165.01 115.39 L165.55 115.65 L166.09 115.91 L166.63 116.18 L167.17 116.44 L167.71 116.70 L168.25 116.96 L168.79 117.22 L169.33 117.49 L169.86 117.75 L170.40 118.01 L170.94 118.27 L171.48 118.53 L172.02 118.80 L172.56 119.06 L173.10 119.32 L173.64 119.59 L174.18 119.85 L174.72 120.11 L175.26 120.38 L175.80 120.64 L176.34 120.90 L176.87 121.17 L177.41 121.43 L177.95 121.70 L178.49 121.96 L179.03 122.23 L179.57 122.49 L180.11 122.76 L180.64 123.02 L181.18 123.29 L181.72 123.55 L182.26 123.82 L182.80 124.08 L183.33 124.35 L183.87 124.62 L184.41 124.88 L184.95 125.15 L185.48 125.42 L186.02 125.68 L186.56 125.95 L187.10 126.22 L187.63 126.48 L188.17 126.75 L188.71 127.02 L189.24 127.29 L189.78 127.56 L190.32 127.83 L190.85 128.10 L191.39 128.37 L191.92 128.63 L192.46 128.90 L193.00 129.17 L193.53 129.44 L194.07 129.72 L194.60 129.99 L195.14 130.26 L195.67 130.53 L196.21 130.80 L196.74 131.07 L197.28 131.34 L197.81 131.62 L198.35 131.89 L198.88 132.16 L199.41 132.44 L199.95 132.71 L200.48 132.98 L201.02 133.26 L201.55 133.53 L202.08 133.81 L202.62 134.08 L203.15 134.36 L203.68 134.64 L204.21 134.91 L204.75 135.19 L205.28 135.47 L205.81 135.74 L206.34 136.02 L206.87 136.30 L207.41 136.58 L207.94 136.86 L208.47 137.14 L209.00 137.42 L209.53 137.70 L210.06 137.98 L210.59 138.26 L211.12 138.54 L211.65 138.82 L212.18 139.10 L212.71 139.39 L213.24 139.67 L213.77 139.95 L214.29 140.24 L214.82 140.52 L215.35 140.81 L215.88 141.09 L216.41 141.38 L216.93 141.66 L217.46 141.95 L217.99 142.24 L218.51 142.53 L219.04 142.81 L219.56 143.10 L220.09 143.39 L220.62 143.68 L221.14 143.97 L221.66 144.26 L222.19 144.56 L222.71 144.85 L223.24 145.14 L223.76 145.44 L224.28 145.73 L224.81 146.02 L225.33 146.32 L225.85 146.62 L226.37 146.91 L226.89 147.21 L227.41 147.51 L227.93 147.81 L228.45 148.11 L228.97 148.41 L229.49 148.71 L230.01 149.01 L230.53 149.31 L231.05 149.62 L231.56 149.92 L232.08 150.22 L232.60 150.53 L233.11 150.84 L233.63 151.14 L234.14 151.45 L234.66 151.76 L235.17 152.07 L235.68 152.38 L236.20 152.69 L236.71 153.01 L237.22 153.32 L237.73 153.63 L238.24 153.95 L238.75 154.26 L239.26 154.58 L239.77 154.90 L240.28 155.22 L240.79 155.54 L241.29 155.86 L241.80 156.18 L242.30 156.51 L242.81 156.83 L243.31 157.16 L243.81 157.48 L244.32 157.81 L244.82 158.14 L245.32 158.47 L245.82 158.80 L246.32 159.14 L246.82 159.47 L247.31 159.81 L247.81 160.14 L248.31 160.48 L248.80 160.82 L249.29 161.16 L249.79 161.51 L250.28 161.85 L250.77 162.20 L251.26 162.54 L251.75 162.89 L252.23 163.24 L252.72 163.59 L253.20 163.95 L253.69 164.30 L254.17 164.66 L254.65 165.02 L255.13 165.38 L255.61 165.74 L256.09 166.10 L256.56 166.47 L257.04 166.84 L257.51 167.21 L257.98 167.58 L258.45 167.95 L258.92 168.33 L259.38 168.71 L259.85 169.09 L260.31 169.47 L260.77 169.85 L261.23 170.24 L261.69 170.63 L262.14 171.02 L262.60 171.41 L263.05 171.81 L263.50 172.21 L263.94 172.61 L264.39 173.01 L264.83 173.42 L265.27 173.82 L265.70 174.23 L266.14 174.65 L266.57 175.06 L267.00 175.48 L267.43 175.91 L267.85 176.33 L268.27 176.76 L268.69 177.19 L269.10 177.62 L269.51 178.06 L269.92 178.50 L270.33 178.94 L270.73 179.39 L271.13 179.84 L271.52 180.29 L271.91 180.75 L272.30 181.20 L272.68 181.67 L273.06 182.13 L273.43 182.60 L273.80 183.07 L274.17 183.55 L274.53 184.03 L274.89 184.51 L275.24 185.00 L275.59 185.48 L275.93 185.98 L276.27 186.47 L276.60 186.97 L276.93 187.47 L277.25 187.98 L277.57 188.49 L277.88 189.00 L278.19 189.52 L278.49 190.04 L278.79 190.56 L279.08 191.08 L279.36 191.61 L279.64 192.14 L279.91 192.68 L280.18 193.21 L280.44 193.76 L280.70 194.30 L280.95 194.84 L281.19 195.39 L281.43 195.94 L281.66 196.50 L281.88 197.05 L282.10 197.61 L282.32 198.17 L282.53 198.73 L282.73 199.30 L282.93 199.86 L283.12 200.43 L283.31 201.00 L283.49 201.58 L283.66 202.15 L283.83 202.72 L284.00 203.30 L284.15 203.88 L284.31 204.46 L284.46 205.04 L284.60 205.62 L284.74 206.21 L284.88 206.79 L285.01 207.38 L285.13 207.96 L285.26 208.55 L285.37 209.14 L285.49 209.73 L285.59 210.32 L285.70 210.91 L285.80 211.50 L285.90 212.09 L285.99 212.69 L286.08 213.28 L286.17 213.87 L286.26 214.47 L286.34 215.06 L286.41 215.66 L286.49 216.25 L286.56 216.85 L286.63 217.44 L286.70 218.04 L286.76 218.64 L286.82 219.23 L286.88 219.83 L286.94 220.43 L286.99 221.02 L287.04 221.62 L287.09 222.22 L287.14 222.82 L287.19 223.42 L287.23 224.02 L287.28 224.61 L287.32 225.21 L287.36 225.81 L287.39 226.41 L287.43 227.01 L287.47 227.61 L287.50 228.21 L287.53 228.81 L287.56 229.41 L287.59 230.00 L287.62 230.60 L287.65 231.20 L287.66 231.48" stroke="#0000ff" fill="none" stroke-width="1.2" stroke-dasharray="7.3 6.4"/>
<path d="M35.90 46.17 L36.37 46.54 L36.85 46.91 L37.32 47.28 L37.80 47.64 L38.28 48.00 L38.76 48.37 L39.24 48.73 L39.72 49.09 L40.20 49.45 L40.68 49.80 L41.16 50.16 L41.65 50.51 L42.13 50.87 L42.62 51.22 L43.10 51.57 L43.59 51.92 L44.08 52.27 L44.57 52.62 L45.06 52.96 L45.55 53.31 L46.04 53.66 L46.53 54.00 L47.02 54.34 L47.52 54.68 L48.01 55.02 L48.50 55.36 L49.00 55.70 L49.50 56.04 L49.99 56.37 L50.49 56.71 L50.99 57.04 L51.49 57.38 L51.99 57.71 L52.49 58.04 L52.99 58.37 L53.49 58.70 L53.99 59.03 L54.50 59.35 L55.00 59.68 L55.50 60.00 L56.01 60.33 L56.51 60.65 L57.02 60.98 L57.53 61.30 L58.03 61.62 L58.54 61.94 L59.05 62.26 L59.56 62.58 L60.07 62.89 L60.58 63.21 L61.09 63.53 L61.60 63.84 L62.11 64.16 L62.62 64.47 L63.13 64.78 L63.64 65.10 L64.15 65.41 L64.67 65.72 L65.18 66.03 L65.70 66.34 L66.21 66.65 L66.73 66.96 L67.24 67.26 L67.76 67.57 L68.27 67.88 L68.79 68.18 L69.31 68.49 L69.82 68.79 L70.34 69.09 L70.86 69.40 L71.38 69.70 L71.90 70.00 L72.41 70.30 L72.93 70.60 L73.45 70.90 L73.97 71.20 L74.49 71.50 L75.01 71.80 L75.53 72.10 L76.06 72.39 L76.58 72.69 L77.10 72.99 L77.62 73.28 L78.14 73.58 L78.67 73.87 L79.19 74.17 L79.71 74.46 L80.23 74.76 L80.76 75.05 L81.28 75.34 L81.81 75.63 L82.33 75.93 L82.85 76.22 L83.38 76.51 L83.90 76.80 L84.43 77.09 L84.95 77.38 L85.48 77.67 L86.01 77.96 L86.53 78.25 L87.06 78.54 L87.58 78.82 L88.11 79.11 L88.64 79.40 L89.16 79.69 L89.69 79.97 L90.22 80.26 L90.74 80.55 L91.27 80.83 L91.80 81.12 L92.33 81.41 L92.85 81.69 L93.38 81.98 L93.91 82.26 L94.44 82.55 L94.97 82.83 L95.50 83.11 L96.02 83.40 L96.55 83.68 L97.08 83.97 L97.61 84.25 L98.14 84.53 L98.67 84.82 L99.20 85.10 L99.73 85.38 L100.26 85.66 L100.78 85.95 L101.31 86.23 L101.84 86.51 L102.37 86.79 L102.90 87.08 L103.43 87.36 L103.96 87.64 L104.49 87.92 L105.02 88.20 L105.55 88.48 L106.08 88.77 L106.61 89.05 L107.14 89.33 L107.67 89.61 L108.20 89.89 L108.73 90.17 L109.26 90.45 L109.79 90.73 L110.32 91.02 L110.85 91.30 L111.38 91.58 L111.91 91.86 L112.44 92.14 L112.97 92.42 L113.50 92.70 L114.03 92.98 L114.56 93.26 L115.09 93.54 L115.62 93.83 L116.15 94.11 L116.68 94.39 L117.21 94.67 L117.74 94.95 L118.27 95.23 L118.80 95.51 L119.33 95.80 L119.86 96.08 L120.39 96.36 L120.92 96.64 L121.45 96.92 L121.98 97.21 L122.51 97.49 L123.04 97.77 L123.57 98.05 L124.10 98.33 L124.63 98.62 L125.16 98.90 L125.68 99.18 L126.21 99.47 L126.74 99.75 L127.27 100.03 L127.80 100.32 L128.33 100.60 L128.86 100.89 L129.39 101.17 L129.91 101.45 L130.44 101.74 L130.97 102.02 L131.50 102.31 L132.03 102.60 L132.55 102.88 L133.08 103.17 L133.61 103.45 L134.13 103.74 L134.66 104.03 L135.19 104.31 L135.72 104.60 L136.24 104.89 L136.77 105.18 L137.29 105.47 L137.82 105.75 L138.35 106.04 L138.87 106.33 L139.40 106.62 L139.92 106.91 L140.45 107.20 L140.97 107.49 L141.50 107.78 L142.02 108.08 L142.55 108.37 L143.07 108.66 L143.59 108.95 L144.12 109.25 L144.64 109.54 L145.16 109.83 L145.69 110.13 L146.21 110.42 L146.73 110.72 L147.25 111.01 L147.77 111.31 L148.30 111.61 L148.82 111.90 L149.34 112.20 L149.86 112.50 L150.38 112.80 L150.90 113.10 L151.42 113.40 L151.94 113.70 L152.46 114.00 L152.97 114.30 L153.49 114.61 L154.01 114.91 L154.53 115.21 L155.05 115.52 L155.56 115.82 L156.08 116.13 L156.59 116.43 L157.11 116.74 L157.63 117.05 L158.14 117.36 L158.65 117.66 L159.17 117.97 L159.68 118.29 L160.19 118.60 L160.71 118.91 L161.22 119.22 L161.73 119.54 L162.24 119.85 L162.75 120.17 L163.26 120.48 L163.77 120.80 L164.28 121.12 L164.79 121.44 L165.29 121.76 L165.80 122.08 L166.31 122.40 L166.81 122.72 L167.32 123.05 L167.82 123.37 L168.33 123.70 L168.83 124.02 L169.33 124.35 L169.83 124.68 L170.34 125.01 L170.84 125.34 L171.33 125.67 L171.83 126.01 L172.33 126.34 L172.83 126.68 L173.32 127.02 L173.82 127.36 L174.31 127.70 L174.81 128.04 L175.30 128.38 L175.79 128.72 L176.28 129.07 L176.77 129.42 L177.26 129.76 L177.75 130.11 L178.23 130.47 L178.72 130.82 L179.20 131.17 L179.69 131.53 L180.17 131.89 L180.65 132.25 L181.13 132.61 L181.61 132.97 L182.08 133.33 L182.56 133.70 L183.03 134.07 L183.50 134.44 L183.97 134.81 L184.44 135.18 L184.91 135.56 L185.38 135.94 L185.84 136.32 L186.31 136.70 L186.77 137.08 L187.23 137.47 L187.68 137.86 L188.14 138.25 L188.59 138.64 L189.04 139.04 L189.49 139.43 L189.94 139.83 L190.38 140.24 L190.83 140.64 L191.27 141.05 L191.71 141.46 L192.14 141.87 L192.57 142.29 L193.00 142.71 L193.43 143.13 L193.86 143.55 L194.28 143.98 L194.70 144.41 L195.11 144.84 L195.53 145.27 L195.94 145.71 L196.34 146.15 L196.75 146.60 L197.15 147.04 L197.54 147.49 L197.94 147.95 L198.33 148.41 L198.71 148.87 L199.09 149.33 L199.47 149.79 L199.84 150.26 L200.21 150.74 L200.58 151.21 L200.94 151.69 L201.29 152.18 L201.64 152.66 L201.99 153.15 L202.33 153.65 L202.67 154.14 L203.00 154.64 L203.33 155.15 L203.65 155.65 L203.97 156.16 L204.28 156.68 L204.58 157.19 L204.88 157.71 L205.18 158.23 L205.47 158.76 L205.75 159.29 L206.03 159.82 L206.30 160.35 L206.57 160.89 L206.83 161.43 L207.08 161.98 L207.33 162.52 L207.57 163.07 L207.81 163.62 L208.04 164.17 L208.27 164.73 L208.49 165.29 L208.70 165.85 L208.91 166.41 L209.11 166.98 L209.31 167.54 L209.50 168.11 L209.69 168.68 L209.87 169.26 L210.04 169.83 L210.21 170.41 L210.37 170.98 L210.53 171.56 L210.69 172.14 L210.84 172.72 L210.98 173.30 L211.12 173.89 L211.26 174.47 L211.39 175.06 L211.51 175.64 L211.63 176.23 L211.75 176.82 L211.86 177.41 L211.97 178.00 L212.08 178.59 L212.18 179.18 L212.28 179.77 L212.37 180.37 L212.46 180.96 L212.55 181.55 L212.63 182.15 L212.71 182.74 L212.79 183.34 L212.87 183.93 L212.94 184.53 L213.01 185.12 L213.07 185.72 L213.14 186.32 L213.20 186.91 L213.26 187.51 L213.32 188.11 L213.37 188.71 L213.42 189.30 L213.47 189.90 L213.52 190.50 L213.57 191.10 L213.61 191.70 L213.65 192.29 L213.70 192.89 L213.73 193.49 L213.77 194.09 L213.81 194.69 L213.84 195.29 L213.88 195.89 L213.91 196.49 L213.94 197.09 L213.97 197.68 L214.00 198.28 L214.02 198.88 L214.05 199.48 L214.08 200.08 L214.10 200.68 L214.12 201.28 L214.14 201.88 L214.16 202.48 L214.18 203.08 L214.20 203.68 L214.22 204.28 L214.24 204.88 L214.26 205.48 L214.27 206.08 L214.29 206.68 L214.30 207.28 L214.32 207.88 L214.33 208.48 L214.35 209.08 L214.36 209.68 L214.37 210.28 L214.38 210.88 L214.39 211.48 L214.40 212.08 L214.41 212.68 L214.42 213.28 L214.43 213.88 L214.44 214.48 L214.45 215.08 L214.46 215.68 L214.47 216.28 L214.47 216.88 L214.48 217.48 L214.49 218.08 L214.50 218.68 L214.50 219.28 L214.51 219.88 L214.51 220.48 L214.52 221.08 L214.52 221.68 L214.53 222.28 L214.53 222.88 L214.54 223.48 L214.54 224.08 L214.55 224.68 L214.55 225.28 L214.56 225.88 L214.56 226.48 L214.56 227.08 L214.57 227.68 L214.57 228.28 L214.57 228.88 L214.58 229.48 L214.58 230.08 L214.58 230.68 L214.58 231.28 L214.59 231.49" stroke="#0000ff" fill="none" stroke-width="1.2" stroke-dasharray="1.5 1.5"/>
<path d="M35.90 57.39 L36.37 57.75 L36.85 58.12 L37.32 58.49 L37.80 58.85 L38.28 59.21 L38.76 59.58 L39.24 59.94 L39.72 60.30 L40.20 60.65 L40.68 61.01 L41.16 61.37 L41.65 61.72 L42.13 62.07 L42.62 62.43 L43.11 62.78 L43.59 63.13 L44.08 63.48 L44.57 63.82 L45.06 64.17 L45.55 64.52 L46.04 64.86 L46.53 65.20 L47.03 65.55 L47.52 65.89 L48.02 66.23 L48.51 66.57 L49.01 66.90 L49.50 67.24 L50.00 67.58 L50.50 67.91 L51.00 68.24 L51.50 68.58 L52.00 68.91 L52.50 69.24 L53.00 69.57 L53.50 69.90 L54.00 70.22 L54.51 70.55 L55.01 70.88 L55.52 71.20 L56.02 71.52 L56.53 71.85 L57.03 72.17 L57.54 72.49 L58.05 72.81 L58.56 73.13 L59.06 73.45 L59.57 73.76 L60.08 74.08 L60.59 74.40 L61.11 74.71 L61.62 75.02 L62.13 75.34 L62.64 75.65 L63.15 75.96 L63.67 76.27 L64.18 76.58 L64.70 76.89 L65.21 77.20 L65.73 77.50 L66.24 77.81 L66.76 78.12 L67.28 78.42 L67.79 78.73 L68.31 79.03 L68.83 79.33 L69.35 79.63 L69.87 79.93 L70.38 80.23 L70.90 80.53 L71.42 80.83 L71.95 81.13 L72.47 81.43 L72.99 81.73 L73.51 82.02 L74.03 82.32 L74.55 82.61 L75.08 82.91 L75.60 83.20 L76.12 83.50 L76.65 83.79 L77.17 84.08 L77.70 84.37 L78.22 84.66 L78.75 84.95 L79.27 85.24 L79.80 85.53 L80.32 85.82 L80.85 86.11 L81.38 86.39 L81.90 86.68 L82.43 86.97 L82.96 87.25 L83.49 87.54 L84.02 87.82 L84.54 88.10 L85.07 88.39 L85.60 88.67 L86.13 88.95 L86.66 89.24 L87.19 89.52 L87.72 89.80 L88.25 90.08 L88.78 90.36 L89.31 90.64 L89.84 90.92 L90.37 91.20 L90.91 91.47 L91.44 91.75 L91.97 92.03 L92.50 92.31 L93.04 92.58 L93.57 92.86 L94.10 93.14 L94.63 93.41 L95.17 93.69 L95.70 93.96 L96.23 94.23 L96.77 94.51 L97.30 94.78 L97.84 95.05 L98.37 95.33 L98.91 95.60 L99.44 95.87 L99.98 96.14 L100.51 96.41 L101.05 96.68 L101.58 96.95 L102.12 97.23 L102.65 97.49 L103.19 97.76 L103.73 98.03 L104.26 98.30 L104.80 98.57 L105.34 98.84 L105.87 99.11 L106.41 99.38 L106.95 99.64 L107.48 99.91 L108.02 100.18 L108.56 100.44 L109.10 100.71 L109.63 100.98 L110.17 101.24 L110.71 101.51 L111.25 101.77 L111.79 102.04 L112.33 102.30 L112.86 102.57 L113.40 102.83 L113.94 103.09 L114.48 103.36 L115.02 103.62 L115.56 103.88 L116.10 104.15 L116.64 104.41 L117.18 104.67 L117.72 104.94 L118.26 105.20 L118.80 105.46 L119.34 105.72 L119.87 105.98 L120.42 106.24 L120.96 106.51 L121.50 106.77 L122.04 107.03 L122.58 107.29 L123.12 107.55 L123.66 107.81 L124.20 108.07 L124.74 108.33 L125.28 108.59 L125.82 108.85 L126.36 109.11 L126.90 109.37 L127.44 109.63 L127.98 109.89 L128.53 110.15 L129.07 110.40 L129.61 110.66 L130.15 110.92 L130.69 111.18 L131.23 111.44 L131.77 111.70 L132.32 111.95 L132.86 112.21 L133.40 112.47 L133.94 112.73 L134.48 112.99 L135.03 113.24 L135.57 113.50 L136.11 113.76 L136.65 114.01 L137.19 114.27 L137.74 114.53 L138.28 114.78 L138.82 115.04 L139.36 115.30 L139.91 115.55 L140.45 115.81 L140.99 116.07 L141.53 116.32 L142.08 116.58 L142.62 116.84 L143.16 117.09 L143.70 117.35 L144.25 117.60 L144.79 117.86 L145.33 118.12 L145.87 118.37 L146.42 118.63 L146.96 118.88 L147.50 119.14 L148.05 119.39 L148.59 119.65 L149.13 119.91 L149.67 120.16 L150.22 120.42 L150.76 120.67 L151.30 120.93 L151.85 121.18 L152.39 121.44 L152.93 121.69 L153.47 121.95 L154.02 122.20 L154.56 122.46 L155.10 122.71 L155.65 122.97 L156.19 123.22 L156.73 123.48 L157.28 123.73 L157.82 123.99 L158.36 124.25 L158.90 124.50 L159.45 124.76 L159.99 125.01 L160.53 125.27 L161.08 125.52 L161.62 125.78 L162.16 126.03 L162.71 126.29 L163.25 126.54 L163.79 126.80 L164.34 127.05 L164.88 127.31 L165.42 127.56 L165.96 127.82 L166.51 128.07 L167.05 128.33 L167.59 128.58 L168.14 128.84 L168.68 129.10 L169.22 129.35 L169.76 129.61 L170.31 129.86 L170.85 130.12 L171.39 130.37 L171.94 130.63 L172.48 130.89 L173.02 131.14 L173.56 131.40 L174.11 131.65 L174.65 131.91 L175.19 132.17 L175.73 132.42 L176.28 132.68 L176.82 132.94 L177.36 133.19 L177.90 133.45 L178.45 133.71 L178.99 133.96 L179.53 134.22 L180.07 134.48 L180.61 134.73 L181.16 134.99 L181.70 135.25 L182.24 135.50 L182.78 135.76 L183.32 136.02 L183.87 136.28 L184.41 136.54 L184.95 136.79 L185.49 137.05 L186.03 137.31 L186.57 137.57 L187.12 137.83 L187.66 138.08 L188.20 138.34 L188.74 138.60 L189.28 138.86 L189.82 139.12 L190.36 139.38 L190.90 139.64 L191.45 139.90 L191.99 140.16 L192.53 140.42 L193.07 140.68 L193.61 140.94 L194.15 141.20 L194.69 141.46 L195.23 141.72 L195.77 141.98 L196.31 142.24 L196.85 142.50 L197.39 142.77 L197.93 143.03 L198.47 143.29 L199.01 143.55 L199.55 143.81 L200.09 144.08 L200.63 144.34 L201.17 144.60 L201.71 144.86 L202.25 145.13 L202.79 145.39 L203.32 145.66 L203.86 145.92 L204.40 146.18 L204.94 146.45 L205.48 146.71 L206.02 146.98 L206.55 147.24 L207.09 147.51 L207.63 147.77 L208.17 148.04 L208.71 148.31 L209.24 148.57 L209.78 148.84 L210.32 149.11 L210.86 149.37 L211.39 149.64 L211.93 149.91 L212.47 150.18 L213.00 150.45 L213.54 150.72 L214.08 150.99 L214.61 151.25 L215.15 151.52 L215.68 151.79 L216.22 152.07 L216.75 152.34 L217.29 152.61 L217.82 152.88 L218.36 153.15 L218.89 153.42 L219.43 153.70 L219.96 153.97 L220.50 154.24 L221.03 154.52 L221.56 154.79 L222.10 155.07 L222.63 155.34 L223.16 155.62 L223.70 155.89 L224.23 156.17 L224.76 156.44 L225.29 156.72 L225.83 157.00 L226.36 157.28 L226.89 157.56 L227.42 157.83 L227.95 158.11 L228.48 158.39 L229.01 158.67 L229.54 158.95 L230.07 159.24 L230.60 159.52 L231.13 159.80 L231.66 160.08 L232.19 160.37 L232.72 160.65 L233.25 160.93 L233.77 161.22 L234.30 161.51 L234.83 161.79 L235.36 162.08 L235.88 162.37 L236.41 162.65 L236.94 162.94 L237.46 163.23 L237.99 163.52 L238.51 163.81 L239.04 164.10 L239.56 164.39 L240.09 164.69 L240.61 164.98 L241.13 165.27 L241.65 165.57 L242.18 165.86 L242.70 166.16 L243.22 166.45 L243.74 166.75 L244.26 167.05 L244.78 167.35 L245.30 167.65 L245.82 167.95 L246.34 168.25 L246.86 168.55 L247.38 168.85 L247.90 169.16 L248.41 169.46 L248.93 169.77 L249.45 170.07 L249.96 170.38 L250.48 170.69 L250.99 171.00 L251.50 171.31 L252.02 171.62 L252.53 171.93 L253.04 172.24 L253.55 172.56 L254.06 172.87 L254.57 173.19 L255.08 173.50 L255.59 173.82 L256.10 174.14 L256.61 174.46 L257.12 174.78 L257.62 175.10 L258.13 175.43 L258.63 175.75 L259.14 176.08 L259.64 176.40 L260.14 176.73 L260.64 177.06 L261.14 177.39 L261.64 177.72 L262.14 178.05 L262.64 178.39 L263.14 178.72 L263.64 179.06 L264.13 179.40 L264.63 179.74 L265.12 180.08 L265.61 180.42 L266.10 180.77 L266.59 181.11 L267.08 181.46 L267.57 181.81 L268.06 182.16 L268.54 182.51 L269.03 182.87 L269.51 183.22 L269.99 183.58 L270.48 183.94 L270.96 184.30 L271.43 184.66 L271.91 185.02 L272.39 185.39 L272.86 185.75 L273.33 186.12 L273.81 186.49 L274.28 186.87 L274.74 187.24 L275.21 187.62 L275.68 188.00 L276.14 188.38 L276.60 188.76 L277.06 189.15 L277.52 189.53 L277.98 189.92 L278.43 190.31 L278.89 190.71 L279.34 191.10 L279.78 191.50 L280.23 191.90 L280.68 192.31 L281.12 192.71 L281.56 193.12 L282.00 193.53 L282.43 193.94 L282.87 194.36 L283.30 194.77 L283.73 195.19 L284.15 195.61 L284.58 196.04 L285.00 196.47 L285.42 196.90 L285.83 197.33 L286.24 197.77 L286.65 198.20 L287.06 198.64 L287.47 199.09 L287.87 199.53 L288.26 199.98 L288.66 200.44 L289.05 200.89 L289.44 201.35 L289.82 201.81 L290.20 202.27 L290.58 202.74 L290.96 203.21 L291.33 203.68 L291.69 204.15 L292.06 204.63 L292.41 205.11 L292.77 205.60 L293.12 206.08 L293.47 206.57 L293.81 207.06 L294.15 207.56 L294.49 208.06 L294.82 208.56 L295.14 209.06 L295.46 209.57 L295.61 210.15 L295.73 210.73 L295.85 211.32 L295.96 211.91 L296.07 212.50 L296.18 213.09 L296.28 213.68 L296.38 214.28 L296.48 214.87 L296.57 215.46 L296.66 216.05 L296.74 216.65 L296.83 217.24 L296.91 217.84 L296.98 218.43 L297.06 219.03 L297.13 219.62 L297.20 220.22 L297.27 220.81 L297.33 221.41 L297.39 222.01 L297.45 222.61 L297.51 223.20 L297.56 223.80 L297.62 224.40 L297.67 225.00 L297.72 225.59 L297.76 226.19 L297.81 226.79 L297.85 227.39 L297.89 227.99 L297.93 228.59 L297.97 229.18 L298.01 229.78 L298.05 230.38 L298.08 230.98 L298.10 231.40" stroke="#ff0000" fill="none" stroke-width="1.2" />
<path d="M35.90 57.67 L36.37 58.04 L36.85 58.41 L37.32 58.77 L37.80 59.14 L38.27 59.50 L38.75 59.87 L39.23 60.23 L39.71 60.59 L40.19 60.95 L40.67 61.31 L41.15 61.67 L41.63 62.02 L42.12 62.38 L42.60 62.73 L43.09 63.09 L43.57 63.44 L44.06 63.79 L44.55 64.14 L45.03 64.49 L45.52 64.83 L46.01 65.18 L46.50 65.53 L46.99 65.87 L47.49 66.21 L47.98 66.56 L48.47 66.90 L48.97 67.24 L49.46 67.58 L49.96 67.92 L50.45 68.25 L50.95 68.59 L51.45 68.92 L51.95 69.26 L52.45 69.59 L52.95 69.92 L53.45 70.25 L53.95 70.58 L54.45 70.91 L54.95 71.24 L55.45 71.57 L55.96 71.90 L56.46 72.22 L56.96 72.55 L57.47 72.87 L57.98 73.19 L58.48 73.52 L58.99 73.84 L59.50 74.16 L60.00 74.48 L60.51 74.80 L61.02 75.12 L61.53 75.43 L62.04 75.75 L62.55 76.06 L63.06 76.38 L63.57 76.69 L64.08 77.01 L64.60 77.32 L65.11 77.63 L65.62 77.94 L66.13 78.25 L66.65 78.56 L67.16 78.87 L67.68 79.18 L68.19 79.49 L68.71 79.79 L69.22 80.10 L69.74 80.40 L70.26 80.71 L70.78 81.01 L71.29 81.32 L71.81 81.62 L72.33 81.92 L72.85 82.22 L73.37 82.52 L73.89 82.83 L74.41 83.13 L74.93 83.42 L75.45 83.72 L75.97 84.02 L76.49 84.32 L77.01 84.62 L77.53 84.91 L78.05 85.21 L78.58 85.50 L79.10 85.80 L79.62 86.09 L80.14 86.39 L80.67 86.68 L81.19 86.97 L81.72 87.26 L82.24 87.56 L82.76 87.85 L83.29 88.14 L83.81 88.43 L84.34 88.72 L84.86 89.01 L85.39 89.30 L85.92 89.59 L86.44 89.87 L86.97 90.16 L87.50 90.45 L88.02 90.74 L88.55 91.02 L89.08 91.31 L89.60 91.60 L90.13 91.88 L90.66 92.17 L91.19 92.45 L91.72 92.74 L92.25 93.02 L92.77 93.30 L93.30 93.59 L93.83 93.87 L94.36 94.15 L94.89 94.44 L95.42 94.72 L95.95 95.00 L96.48 95.28 L97.01 95.56 L97.54 95.84 L98.07 96.12 L98.60 96.40 L99.13 96.68 L99.66 96.96 L100.19 97.24 L100.72 97.52 L101.25 97.80 L101.78 98.08 L102.32 98.36 L102.85 98.64 L103.38 98.92 L103.91 99.20 L104.44 99.47 L104.97 99.75 L105.51 100.03 L106.04 100.31 L106.57 100.58 L107.10 100.86 L107.63 101.14 L108.17 101.41 L108.70 101.69 L109.23 101.97 L109.76 102.24 L110.30 102.52 L110.83 102.80 L111.36 103.07 L111.90 103.35 L112.43 103.62 L112.96 103.90 L113.49 104.17 L114.03 104.45 L114.56 104.73 L115.09 105.00 L115.63 105.28 L116.16 105.55 L116.69 105.83 L117.23 106.10 L117.76 106.37 L118.29 106.65 L118.83 106.92 L119.36 107.20 L119.89 107.47 L120.43 107.75 L120.96 108.02 L121.49 108.30 L122.03 108.57 L122.56 108.85 L123.10 109.12 L123.63 109.40 L124.16 109.67 L124.70 109.94 L125.23 110.22 L125.76 110.49 L126.30 110.77 L126.83 111.04 L127.36 111.32 L127.90 111.59 L128.43 111.87 L128.96 112.14 L129.50 112.42 L130.03 112.69 L130.56 112.97 L131.10 113.24 L131.63 113.52 L132.16 113.79 L132.70 114.07 L133.23 114.34 L133.76 114.62 L134.29 114.89 L134.83 115.17 L135.36 115.45 L135.89 115.72 L136.43 116.00 L136.96 116.28 L137.49 116.55 L138.02 116.83 L138.56 117.11 L139.09 117.38 L139.62 117.66 L140.15 117.94 L140.68 118.21 L141.22 118.49 L141.75 118.77 L142.28 119.05 L142.81 119.33 L143.34 119.60 L143.87 119.88 L144.40 120.16 L144.94 120.44 L145.47 120.72 L146.00 121.00 L146.53 121.28 L147.06 121.56 L147.59 121.84 L148.12 122.12 L148.65 122.40 L149.18 122.68 L149.71 122.96 L150.24 123.25 L150.77 123.53 L151.30 123.81 L151.83 124.09 L152.36 124.38 L152.89 124.66 L153.41 124.94 L153.94 125.23 L154.47 125.51 L155.00 125.80 L155.53 126.08 L156.05 126.37 L156.58 126.66 L157.11 126.94 L157.64 127.23 L158.16 127.52 L158.69 127.80 L159.22 128.09 L159.74 128.38 L160.27 128.67 L160.79 128.96 L161.32 129.25 L161.84 129.54 L162.37 129.83 L162.89 130.12 L163.42 130.41 L163.94 130.71 L164.46 131.00 L164.99 131.29 L165.51 131.59 L166.03 131.88 L166.56 132.18 L167.08 132.47 L167.60 132.77 L168.12 133.07 L168.64 133.36 L169.16 133.66 L169.68 133.96 L170.20 134.26 L170.72 134.56 L171.24 134.86 L171.76 135.16 L172.28 135.46 L172.80 135.77 L173.31 136.07 L173.83 136.37 L174.35 136.68 L174.86 136.99 L175.38 137.29 L175.89 137.60 L176.41 137.91 L176.92 138.22 L177.44 138.53 L177.95 138.84 L178.46 139.15 L178.98 139.46 L179.49 139.78 L180.00 140.09 L180.51 140.41 L181.02 140.72 L181.53 141.04 L182.04 141.36 L182.54 141.68 L183.05 142.00 L183.56 142.32 L184.06 142.64 L184.57 142.96 L185.07 143.29 L185.58 143.61 L186.08 143.94 L186.58 144.27 L187.09 144.60 L187.59 144.93 L188.09 145.26 L188.59 145.59 L189.09 145.93 L189.58 146.26 L190.08 146.60 L190.58 146.93 L191.07 147.27 L191.56 147.61 L192.06 147.96 L192.55 148.30 L193.04 148.64 L193.53 148.99 L194.02 149.34 L194.51 149.69 L194.99 150.04 L195.48 150.39 L195.96 150.75 L196.45 151.10 L196.93 151.46 L197.41 151.82 L197.89 152.18 L198.37 152.54 L198.84 152.91 L199.32 153.27 L199.79 153.64 L200.26 154.01 L200.74 154.38 L201.21 154.76 L201.67 155.13 L202.14 155.51 L202.60 155.89 L203.07 156.27 L203.53 156.65 L203.99 157.04 L204.44 157.43 L204.90 157.82 L205.35 158.21 L205.80 158.61 L206.25 159.01 L206.70 159.41 L207.15 159.81 L207.59 160.21 L208.03 160.62 L208.47 161.03 L208.90 161.44 L209.34 161.86 L209.77 162.27 L210.20 162.69 L210.62 163.12 L211.05 163.54 L211.47 163.97 L211.89 164.40 L212.30 164.83 L212.71 165.27 L213.12 165.71 L213.53 166.15 L213.93 166.60 L214.33 167.04 L214.72 167.49 L215.12 167.95 L215.50 168.41 L215.89 168.87 L216.27 169.33 L216.65 169.79 L217.02 170.26 L217.39 170.74 L217.76 171.21 L218.12 171.69 L218.48 172.17 L218.83 172.66 L219.18 173.14 L219.53 173.63 L219.87 174.13 L220.21 174.63 L220.54 175.13 L220.86 175.63 L221.12 176.16 L221.27 176.75 L221.40 177.33 L221.53 177.92 L221.66 178.50 L221.78 179.09 L221.90 179.68 L222.02 180.27 L222.13 180.86 L222.24 181.45 L222.34 182.04 L222.44 182.63 L222.54 183.22 L222.63 183.81 L222.72 184.41 L222.81 185.00 L222.89 185.59 L222.97 186.19 L223.05 186.78 L223.13 187.38 L223.20 187.97 L223.27 188.57 L223.34 189.17 L223.40 189.76 L223.46 190.36 L223.52 190.96 L223.58 191.55 L223.64 192.15 L223.69 192.75 L223.74 193.35 L223.79 193.94 L223.84 194.54 L223.88 195.14 L223.93 195.74 L223.97 196.34 L224.01 196.94 L224.05 197.54 L224.09 198.13 L224.12 198.73 L224.16 199.33 L224.19 199.93 L224.22 200.53 L224.25 201.13 L224.28 201.73 L224.31 202.33 L224.34 202.93 L224.37 203.53 L224.39 204.13 L224.42 204.73 L224.44 205.33 L224.46 205.92 L224.48 206.52 L224.50 207.12 L224.52 207.72 L224.54 208.32 L224.56 208.92 L224.58 209.52 L224.59 210.12 L224.61 210.72 L224.62 211.32 L224.64 211.92 L224.65 212.52 L224.67 213.12 L224.68 213.72 L224.69 214.32 L224.70 214.92 L224.72 215.52 L224.73 216.12 L224.74 216.72 L224.75 217.32 L224.76 217.92 L224.77 218.52 L224.78 219.12 L224.78 219.72 L224.79 220.32 L224.80 220.92 L224.81 221.52 L224.81 222.12 L224.82 222.72 L224.83 223.32 L224.83 223.92 L224.84 224.52 L224.85 225.12 L224.85 225.72 L224.86 226.32 L224.86 226.92 L224.87 227.52 L224.87 228.12 L224.88 228.72 L224.88 229.32 L224.89 229.92 L224.89 230.52 L224.89 231.12 L224.90 231.45" stroke="#ff0000" fill="none" stroke-width="1.2" stroke-dasharray="7.3 6.4"/>
<path d="M35.90 58.73 L36.37 59.11 L36.84 59.48 L37.30 59.86 L37.77 60.23 L38.25 60.60 L38.72 60.97 L39.19 61.34 L39.66 61.71 L40.14 62.08 L40.61 62.45 L41.09 62.81 L41.56 63.18 L42.04 63.54 L42.52 63.90 L43.00 64.27 L43.48 64.63 L43.96 64.99 L44.44 65.34 L44.92 65.70 L45.40 66.06 L45.88 66.42 L46.37 66.77 L46.85 67.13 L47.34 67.48 L47.82 67.83 L48.31 68.18 L48.80 68.53 L49.28 68.88 L49.77 69.23 L50.26 69.58 L50.75 69.93 L51.24 70.27 L51.73 70.62 L52.22 70.97 L52.71 71.31 L53.20 71.65 L53.70 72.00 L54.19 72.34 L54.68 72.68 L55.18 73.02 L55.67 73.36 L56.17 73.70 L56.66 74.04 L57.16 74.37 L57.65 74.71 L58.15 75.05 L58.65 75.38 L59.14 75.72 L59.64 76.05 L60.14 76.39 L60.64 76.72 L61.14 77.05 L61.64 77.39 L62.14 77.72 L62.64 78.05 L63.14 78.38 L63.64 78.71 L64.14 79.04 L64.64 79.37 L65.15 79.70 L65.65 80.02 L66.15 80.35 L66.65 80.68 L67.16 81.01 L67.66 81.33 L68.17 81.66 L68.67 81.98 L69.17 82.31 L69.68 82.63 L70.18 82.96 L70.69 83.28 L71.19 83.60 L71.70 83.93 L72.20 84.25 L72.71 84.57 L73.22 84.90 L73.72 85.22 L74.23 85.54 L74.74 85.86 L75.24 86.18 L75.75 86.50 L76.26 86.83 L76.76 87.15 L77.27 87.47 L77.78 87.79 L78.29 88.11 L78.79 88.43 L79.30 88.75 L79.81 89.07 L80.32 89.39 L80.82 89.71 L81.33 90.02 L81.84 90.34 L82.35 90.66 L82.86 90.98 L83.36 91.30 L83.87 91.62 L84.38 91.94 L84.89 92.26 L85.40 92.58 L85.90 92.90 L86.41 93.22 L86.92 93.54 L87.43 93.86 L87.94 94.17 L88.44 94.49 L88.95 94.81 L89.46 95.13 L89.97 95.45 L90.47 95.77 L90.98 96.09 L91.49 96.41 L92.00 96.73 L92.50 97.06 L93.01 97.38 L93.52 97.70 L94.02 98.02 L94.53 98.34 L95.04 98.66 L95.54 98.99 L96.05 99.31 L96.55 99.63 L97.06 99.96 L97.56 100.28 L98.07 100.60 L98.57 100.93 L99.08 101.25 L99.58 101.58 L100.09 101.90 L100.59 102.23 L101.09 102.56 L101.60 102.88 L102.10 103.21 L102.60 103.54 L103.10 103.87 L103.60 104.20 L104.11 104.53 L104.61 104.86 L105.11 105.19 L105.61 105.52 L106.11 105.85 L106.60 106.19 L107.10 106.52 L107.60 106.86 L108.10 107.19 L108.60 107.53 L109.09 107.86 L109.59 108.20 L110.08 108.54 L110.58 108.88 L111.07 109.22 L111.57 109.56 L112.06 109.90 L112.55 110.25 L113.04 110.59 L113.53 110.93 L114.02 111.28 L114.51 111.63 L115.00 111.97 L115.49 112.32 L115.98 112.67 L116.47 113.02 L116.95 113.38 L117.44 113.73 L117.92 114.08 L118.40 114.44 L118.88 114.80 L119.37 115.16 L119.85 115.52 L120.33 115.88 L120.80 116.24 L121.28 116.60 L121.76 116.97 L122.23 117.33 L122.71 117.70 L123.18 118.07 L123.65 118.44 L124.12 118.82 L124.59 119.19 L125.06 119.57 L125.52 119.94 L125.99 120.32 L126.45 120.70 L126.91 121.09 L127.38 121.47 L127.83 121.86 L128.29 122.24 L128.75 122.63 L129.20 123.03 L129.66 123.42 L130.11 123.82 L130.56 124.21 L131.00 124.61 L131.45 125.01 L131.89 125.42 L132.33 125.82 L132.77 126.23 L133.21 126.64 L133.65 127.06 L134.08 127.47 L134.51 127.89 L134.94 128.31 L135.37 128.73 L135.79 129.15 L136.21 129.58 L136.63 130.01 L137.05 130.44 L137.46 130.88 L137.87 131.31 L138.28 131.75 L138.69 132.20 L139.09 132.64 L139.49 133.09 L139.89 133.54 L140.28 133.99 L140.67 134.45 L141.06 134.90 L141.44 135.37 L141.82 135.83 L142.20 136.30 L142.57 136.77 L142.94 137.24 L143.31 137.71 L143.67 138.19 L144.03 138.67 L144.38 139.16 L144.73 139.64 L145.08 140.13 L145.42 140.63 L145.76 141.12 L146.10 141.62 L146.43 142.12 L146.75 142.62 L147.07 143.13 L147.39 143.64 L147.70 144.15 L148.01 144.67 L148.31 145.19 L148.61 145.71 L148.91 146.23 L149.20 146.76 L149.48 147.28 L149.76 147.81 L150.03 148.35 L150.30 148.88 L150.57 149.42 L150.83 149.96 L151.08 150.51 L151.33 151.05 L151.58 151.60 L151.82 152.15 L152.06 152.70 L152.29 153.25 L152.44 153.83 L152.52 154.42 L152.60 155.02 L152.68 155.61 L152.76 156.21 L152.83 156.80 L152.90 157.40 L152.96 158.00 L153.03 158.59 L153.09 159.19 L153.15 159.79 L153.21 160.38 L153.26 160.98 L153.31 161.58 L153.36 162.18 L153.41 162.78 L153.46 163.37 L153.51 163.97 L153.55 164.57 L153.59 165.17 L153.63 165.77 L153.67 166.37 L153.71 166.97 L153.74 167.56 L153.78 168.16 L153.81 168.76 L153.84 169.36 L153.87 169.96 L153.90 170.56 L153.93 171.16 L153.96 171.76 L153.99 172.36 L154.01 172.96 L154.03 173.56 L154.06 174.16 L154.08 174.76 L154.10 175.36 L154.12 175.96 L154.14 176.56 L154.16 177.16 L154.18 177.75 L154.19 178.35 L154.21 178.95 L154.23 179.55 L154.24 180.15 L154.26 180.75 L154.27 181.35 L154.28 181.95 L154.30 182.55 L154.31 183.15 L154.32 183.75 L154.33 184.35 L154.34 184.95 L154.35 185.55 L154.36 186.15 L154.37 186.75 L154.38 187.35 L154.39 187.95 L154.40 188.55 L154.41 189.15 L154.42 189.75 L154.42 190.35 L154.43 190.95 L154.44 191.55 L154.44 192.15 L154.45 192.75 L154.46 193.35 L154.46 193.95 L154.47 194.55 L154.47 195.15 L154.48 195.75 L154.48 196.35 L154.49 196.95 L154.49 197.55 L154.50 198.15 L154.50 198.75 L154.51 199.35 L154.51 199.95 L154.51 200.55 L154.52 201.15 L154.52 201.75 L154.52 202.35 L154.53 202.95 L154.53 203.55 L154.53 204.15 L154.54 204.75 L154.54 205.35 L154.54 205.95 L154.54 206.55 L154.55 207.15 L154.55 207.75 L154.55 208.35 L154.55 208.95 L154.55 209.55 L154.56 210.15 L154.56 210.75 L154.56 211.35 L154.56 211.95 L154.56 212.55 L154.56 213.15 L154.57 213.75 L154.57 214.35 L154.57 214.95 L154.57 215.55 L154.57 216.15 L154.57 216.75 L154.57 217.35 L154.57 217.95 L154.58 218.55 L154.58 219.15 L154.58 219.75 L154.58 220.35 L154.58 220.95 L154.58 221.55 L154.58 222.15 L154.58 222.75 L154.58 223.35 L154.58 223.95 L154.58 224.55 L154.58 225.15 L154.58 225.75 L154.59 226.35 L154.59 226.95 L154.59 227.55 L154.59 228.15 L154.59 228.75 L154.59 229.35 L154.59 229.95 L154.59 230.55 L154.59 231.15 L154.59 231.44" stroke="#ff0000" fill="none" stroke-width="1.2" stroke-dasharray="1.5 1.5"/>
</g>
<g stroke="#484848" stroke-width="0.8">
<line x1="36.90" y1="228.50" x2="36.90" y2="225.50"/>
<line x1="36.90" y1="0.30" x2="36.90" y2="3.30"/>
<line x1="55.39" y1="228.50" x2="55.39" y2="226.90"/>
<line x1="55.39" y1="0.30" x2="55.39" y2="1.90"/>
<line x1="73.88" y1="228.50" x2="73.88" y2="226.90"/>
<line x1="73.88" y1="0.30" x2="73.88" y2="1.90"/>
<line x1="92.37" y1="228.50" x2="92.37" y2="226.90"/>
<line x1="92.37" y1="0.30" x2="92.37" y2="1.90"/>
<line x1="110.86" y1="228.50" x2="110.86" y2="225.50"/>
<line x1="110.86" y1="0.30" x2="110.86" y2="3.30"/>
<line x1="129.35" y1="228.50" x2="129.35" y2="226.90"/>
<line x1="129.35" y1="0.30" x2="129.35" y2="1.90"/>
<line x1="147.84" y1="228.50" x2="147.84" y2="226.90"/>
<line x1="147.84" y1="0.30" x2="147.84" y2="1.90"/>
<line x1="166.33" y1="228.50" x2="166.33" y2="226.90"/>
<line x1="166.33" y1="0.30" x2="166.33" y2="1.90"/>
<line x1="184.82" y1="228.50" x2="184.82" y2="225.50"/>
<line x1="184.82" y1="0.30" x2="184.82" y2="3.30"/>
<line x1="203.31" y1="228.50" x2="203.31" y2="226.90"/>
<line x1="203.31" y1="0.30" x2="203.31" y2="1.90"/>
<line x1="221.80" y1="228.50" x2="221.80" y2="226.90"/>
<line x1="221.80" y1="0.30" x2="221.80" y2="1.90"/>
<line x1="240.29" y1="228.50" x2="240.29" y2="226.90"/>
<line x1="240.29" y1="0.30" x2="240.29" y2="1.90"/>
<line x1="258.78" y1="228.50" x2="258.78" y2="225.50"/>
<line x1="258.78" y1="0.30" x2="258.78" y2="3.30"/>
<line x1="277.27" y1="228.50" x2="277.27" y2="226.90"/>
<line x1="277.27" y1="0.30" x2="277.27" y2="1.90"/>
<line x1="295.76" y1="228.50" x2="295.76" y2="226.90"/>
<line x1="295.76" y1="0.30" x2="295.76" y2="1.90"/>
<line x1="314.25" y1="228.50" x2="314.25" y2="226.90"/>
<line x1="314.25" y1="0.30" x2="314.25" y2="1.90"/>
<line x1="332.74" y1="228.50" x2="332.74" y2="225.50"/>
<line x1="332.74" y1="0.30" x2="332.74" y2="3.30"/>
<line x1="351.23" y1="228.50" x2="351.23" y2="226.90"/>
<line x1="351.23" y1="0.30" x2="351.23" y2="1.90"/>
<line x1="369.72" y1="228.50" x2="369.72" y2="226.90"/>
<line x1="369.72" y1="0.30" x2="369.72" y2="1.90"/>
<line x1="388.21" y1="228.50" x2="388.21" y2="226.90"/>
<line x1="388.21" y1="0.30" x2="388.21" y2="1.90"/>
<line x1="406.70" y1="228.50" x2="406.70" y2="225.50"/>
<line x1="406.70" y1="0.30" x2="406.70" y2="3.30"/>
<line stroke="#b4b4b4" x1="36.90" y1="228.50" x2="40.70" y2="228.50"/>
<line stroke="#b4b4b4" x1="406.70" y1="228.50" x2="402.90" y2="228.50"/>
<line stroke="#b4b4b4" x1="36.90" y1="195.82" x2="40.70" y2="195.82"/>
<line stroke="#b4b4b4" x1="406.70" y1="195.82" x2="402.90" y2="195.82"/>
<line stroke="#b4b4b4" x1="36.90" y1="163.13" x2="40.70" y2="163.13"/>
<line stroke="#b4b4b4" x1="406.70" y1="163.13" x2="402.90" y2="163.13"/>
<line stroke="#b4b4b4" x1="36.90" y1="130.45" x2="40.70" y2="130.45"/>
<line stroke="#b4b4b4" x1="406.70" y1="130.45" x2="402.90" y2="130.45"/>
<line stroke="#b4b4b4" x1="36.90" y1="97.77" x2="40.70" y2="97.77"/>
<line stroke="#b4b4b4" x1="406.70" y1="97.77" x2="402.90" y2="97.77"/>
<line stroke="#b4b4b4" x1="36.90" y1="65.08" x2="40.70" y2="65.08"/>
<line stroke="#b4b4b4" x1="406.70" y1="65.08" x2="402.90" y2="65.08"/>
<line stroke="#b4b4b4" x1="36.90" y1="32.40" x2="40.70" y2="32.40"/>
<line stroke="#b4b4b4" x1="406.70" y1="32.40" x2="402.90" y2="32.40"/>
<line stroke="#b4b4b4" x1="36.90" y1="-0.28" x2="40.70" y2="-0.28"/>
<line stroke="#b4b4b4" x1="406.70" y1="-0.28" x2="402.90" y2="-0.28"/>
</g>
<g stroke="#525252" stroke-width="1" fill="none">
<line x1="36.90" y1="0" x2="36.90" y2="229.00"/>
<line x1="406.70" y1="0" x2="406.70" y2="229.00"/>
<line x1="36.40" y1="228.50" x2="407.20" y2="228.50"/>
<line x1="36.90" y1="0.1" x2="406.70" y2="0.1"/>
</g>
<text x="36.35" y="239.0" text-anchor="middle">0</text>
<text x="110.31" y="239.0" text-anchor="middle">20</text>
<text x="184.27" y="239.0" text-anchor="middle">40</text>
<text x="258.23" y="239.0" text-anchor="middle">60</text>
<text x="332.19" y="239.0" text-anchor="middle">80</text>
<text x="406.15" y="239.0" text-anchor="middle">100</text>
<text x="35.0" y="36.50" text-anchor="end">10<tspan font-size="7.4" dy="-4.2">−3</tspan></text>
<text x="35.0" y="101.87" text-anchor="end">10<tspan font-size="7.4" dy="-4.2">−5</tspan></text>
<text x="35.0" y="167.23" text-anchor="end">10<tspan font-size="7.4" dy="-4.2">−7</tspan></text>
<text x="35.0" y="232.60" text-anchor="end">10<tspan font-size="7.4" dy="-4.2">−9</tspan></text>
<text x="221.7" y="254.0" text-anchor="middle" letter-spacing="0.25">Loss (dB)</text>
<text transform="translate(9.9 113.6) rotate(-90)" text-anchor="middle" word-spacing="1.0">Asymptotic key rate</text>
<line x1="313" y1="37.45" x2="336" y2="37.45" stroke="#ff00ff" stroke-width="1" />
<text x="342.1" y="41.35"><tspan font-style="italic">R</tspan><tspan font-size="7" dy="2" dx="-0.5">1</tspan></text>
<line x1="313" y1="54.60" x2="336" y2="54.60" stroke="#ff00ff" stroke-width="1" stroke-dasharray="3.5 1.4"/>
<text x="342.1" y="58.50"><tspan font-style="italic">R</tspan><tspan font-size="7" dy="2" dx="-0.5">2</tspan><tspan dy="-2" dx="0.9">(3)</tspan></text>
<line x1="313" y1="71.95" x2="336" y2="71.95" stroke="#000" stroke-width="1" />
<text x="342.1" y="75.85">N=3</text>
<line x1="313" y1="89.05" x2="336" y2="89.05" stroke="#0000ff" stroke-width="1" />
<text x="342.1" y="92.95">N=4</text>
<line x1="313" y1="106.40" x2="336" y2="106.40" stroke="#ff0000" stroke-width="1" />
<text x="342.1" y="110.30">N=5</text>
</svg>
</body></html>
